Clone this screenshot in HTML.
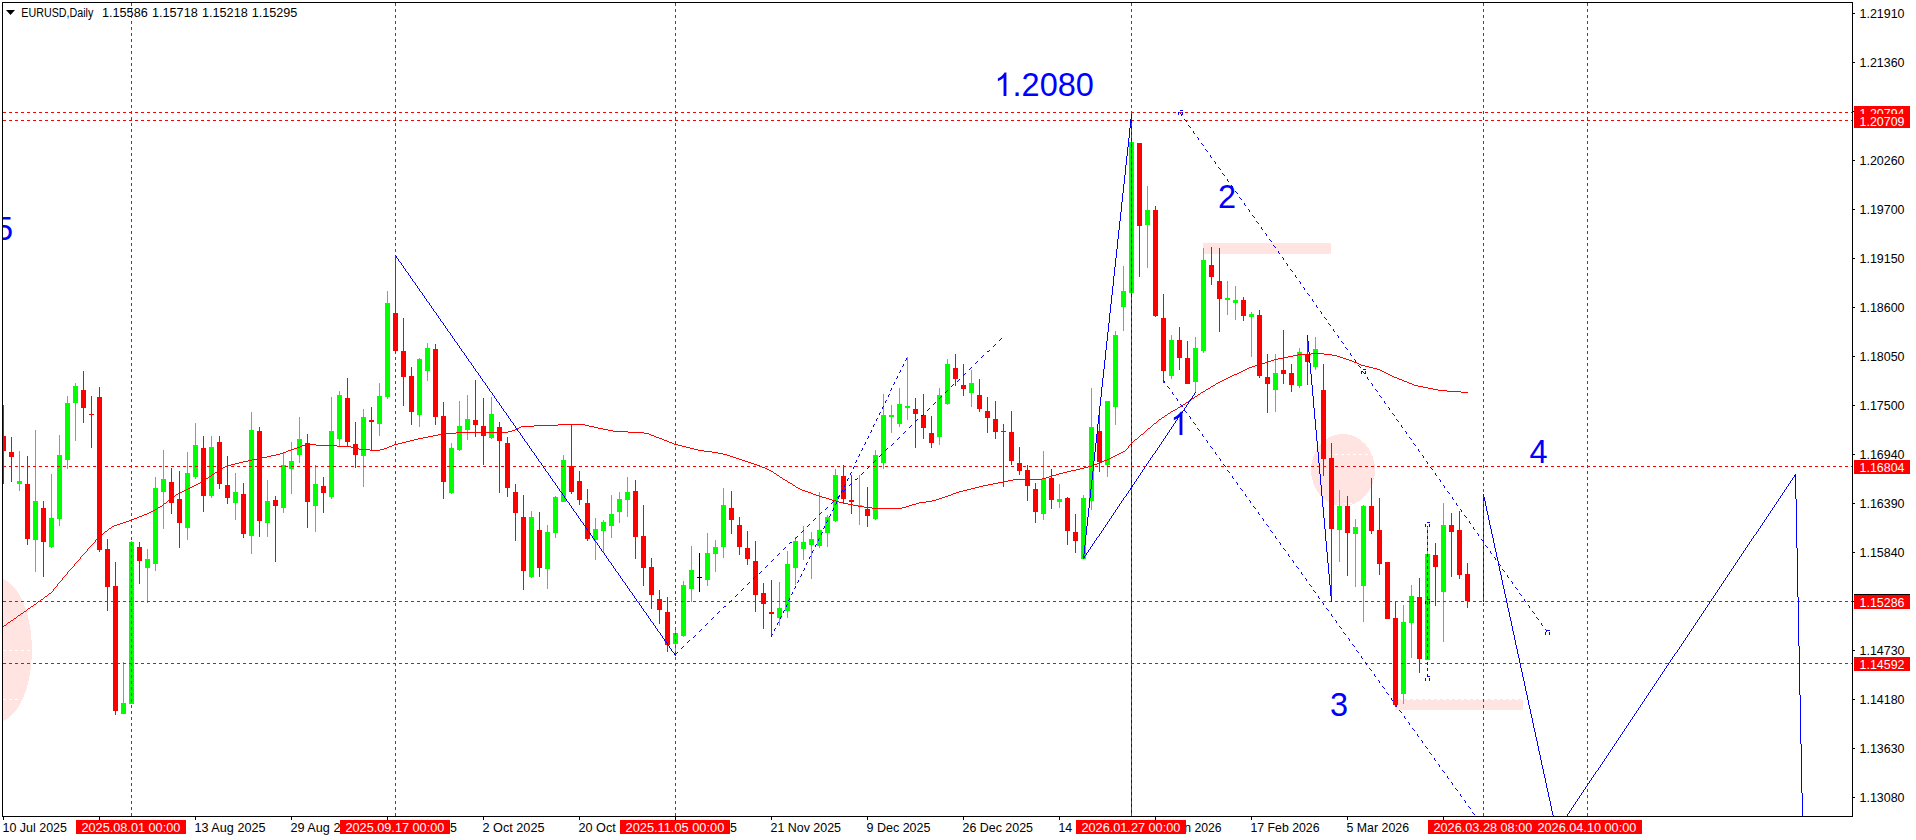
<!DOCTYPE html>
<html><head><meta charset="utf-8"><title>EURUSD,Daily</title>
<style>html,body{margin:0;padding:0;background:#fff;overflow:hidden}body{width:1916px;height:840px}svg{display:block}text{font-family:"Liberation Sans",sans-serif}</style></head><body>
<svg width="1916" height="840" viewBox="0 0 1916 840">
<rect x="0" y="0" width="1916" height="840" fill="#ffffff"/>
<defs><clipPath id="cp"><rect x="3" y="3" width="1849" height="813"/></clipPath></defs>
<g clip-path="url(#cp)" shape-rendering="crispEdges">
<g fill="#ffe4e1">
<ellipse cx="-3" cy="650" rx="35" ry="72"/>
<ellipse cx="1343" cy="470" rx="32" ry="36"/>
<rect x="1203" y="243" width="128" height="11"/>
<rect x="1395" y="699" width="128" height="11"/>
</g>
<g stroke="#ffffff" stroke-width="1" stroke-dasharray="3 3" fill="none">
<line x1="3" y1="650.5" x2="34" y2="650.5"/>
<line x1="3" y1="699.5" x2="20" y2="699.5"/>
<line x1="3" y1="601.5" x2="24" y2="601.5"/>
<line x1="1311" y1="454.5" x2="1375" y2="454.5"/>
<line x1="1319" y1="503.5" x2="1367" y2="503.5"/>
<line x1="1395" y1="699.5" x2="1523" y2="699.5"/>
</g>
<rect x="3" y="405" width="1" height="79" fill="#ff0000"/>
<rect x="1" y="436" width="5" height="15" fill="#ff0000"/>
<rect x="11" y="437" width="1" height="45" fill="#ff0000"/>
<rect x="9" y="452" width="5" height="5" fill="#ff0000"/>
<rect x="19" y="451" width="1" height="40" fill="#00ff00"/>
<rect x="17" y="481" width="5" height="3" fill="#00ff00"/>
<rect x="27" y="456" width="1" height="89" fill="#ff0000"/>
<rect x="25" y="484" width="5" height="55" fill="#ff0000"/>
<rect x="35" y="430" width="1" height="142" fill="#00ff00"/>
<rect x="33" y="501" width="5" height="39" fill="#00ff00"/>
<rect x="43" y="501" width="1" height="76" fill="#ff0000"/>
<rect x="41" y="508" width="5" height="34" fill="#ff0000"/>
<rect x="51" y="474" width="1" height="74" fill="#00ff00"/>
<rect x="49" y="518" width="5" height="29" fill="#00ff00"/>
<rect x="59" y="435" width="1" height="91" fill="#00ff00"/>
<rect x="57" y="455" width="5" height="64" fill="#00ff00"/>
<rect x="67" y="396" width="1" height="73" fill="#00ff00"/>
<rect x="65" y="403" width="5" height="57" fill="#00ff00"/>
<rect x="75" y="383" width="1" height="58" fill="#00ff00"/>
<rect x="73" y="386" width="5" height="17" fill="#00ff00"/>
<rect x="83" y="371" width="1" height="52" fill="#ff0000"/>
<rect x="81" y="390" width="5" height="18" fill="#ff0000"/>
<rect x="91" y="396" width="1" height="52" fill="#ff0000"/>
<rect x="89" y="414" width="5" height="1" fill="#ff0000"/>
<rect x="99" y="387" width="1" height="165" fill="#ff0000"/>
<rect x="97" y="397" width="5" height="153" fill="#ff0000"/>
<rect x="107" y="539" width="1" height="72" fill="#ff0000"/>
<rect x="105" y="549" width="5" height="38" fill="#ff0000"/>
<rect x="115" y="562" width="1" height="153" fill="#ff0000"/>
<rect x="113" y="586" width="5" height="125" fill="#ff0000"/>
<rect x="123" y="662" width="1" height="52" fill="#00ff00"/>
<rect x="121" y="703" width="5" height="11" fill="#00ff00"/>
<rect x="131" y="541" width="1" height="163" fill="#00ff00"/>
<rect x="129" y="542" width="5" height="162" fill="#00ff00"/>
<rect x="139" y="542" width="1" height="42" fill="#ff0000"/>
<rect x="137" y="547" width="5" height="14" fill="#ff0000"/>
<rect x="147" y="549" width="1" height="54" fill="#00ff00"/>
<rect x="145" y="559" width="5" height="9" fill="#00ff00"/>
<rect x="155" y="477" width="1" height="94" fill="#00ff00"/>
<rect x="153" y="488" width="5" height="76" fill="#00ff00"/>
<rect x="163" y="450" width="1" height="79" fill="#00ff00"/>
<rect x="161" y="479" width="5" height="13" fill="#00ff00"/>
<rect x="171" y="468" width="1" height="46" fill="#ff0000"/>
<rect x="169" y="482" width="5" height="21" fill="#ff0000"/>
<rect x="179" y="471" width="1" height="77" fill="#ff0000"/>
<rect x="177" y="499" width="5" height="24" fill="#ff0000"/>
<rect x="187" y="452" width="1" height="88" fill="#00ff00"/>
<rect x="185" y="473" width="5" height="55" fill="#00ff00"/>
<rect x="195" y="423" width="1" height="56" fill="#00ff00"/>
<rect x="193" y="445" width="5" height="32" fill="#00ff00"/>
<rect x="203" y="436" width="1" height="76" fill="#ff0000"/>
<rect x="201" y="448" width="5" height="48" fill="#ff0000"/>
<rect x="211" y="436" width="1" height="62" fill="#00ff00"/>
<rect x="209" y="447" width="5" height="49" fill="#00ff00"/>
<rect x="219" y="436" width="1" height="53" fill="#ff0000"/>
<rect x="217" y="442" width="5" height="42" fill="#ff0000"/>
<rect x="227" y="456" width="1" height="48" fill="#ff0000"/>
<rect x="225" y="485" width="5" height="13" fill="#ff0000"/>
<rect x="235" y="473" width="1" height="47" fill="#00ff00"/>
<rect x="233" y="492" width="5" height="11" fill="#00ff00"/>
<rect x="243" y="483" width="1" height="55" fill="#ff0000"/>
<rect x="241" y="494" width="5" height="40" fill="#ff0000"/>
<rect x="251" y="412" width="1" height="142" fill="#00ff00"/>
<rect x="249" y="430" width="5" height="106" fill="#00ff00"/>
<rect x="259" y="427" width="1" height="110" fill="#ff0000"/>
<rect x="257" y="431" width="5" height="90" fill="#ff0000"/>
<rect x="267" y="480" width="1" height="57" fill="#00ff00"/>
<rect x="265" y="501" width="5" height="22" fill="#00ff00"/>
<rect x="275" y="496" width="1" height="66" fill="#ff0000"/>
<rect x="273" y="500" width="5" height="6" fill="#ff0000"/>
<rect x="283" y="452" width="1" height="61" fill="#00ff00"/>
<rect x="281" y="465" width="5" height="43" fill="#00ff00"/>
<rect x="291" y="442" width="1" height="52" fill="#00ff00"/>
<rect x="289" y="461" width="5" height="8" fill="#00ff00"/>
<rect x="299" y="417" width="1" height="46" fill="#00ff00"/>
<rect x="297" y="439" width="5" height="16" fill="#00ff00"/>
<rect x="307" y="434" width="1" height="94" fill="#ff0000"/>
<rect x="305" y="443" width="5" height="59" fill="#ff0000"/>
<rect x="315" y="465" width="1" height="67" fill="#00ff00"/>
<rect x="313" y="484" width="5" height="22" fill="#00ff00"/>
<rect x="323" y="477" width="1" height="36" fill="#ff0000"/>
<rect x="321" y="486" width="5" height="7" fill="#ff0000"/>
<rect x="331" y="397" width="1" height="102" fill="#00ff00"/>
<rect x="329" y="431" width="5" height="66" fill="#00ff00"/>
<rect x="339" y="391" width="1" height="56" fill="#00ff00"/>
<rect x="337" y="395" width="5" height="44" fill="#00ff00"/>
<rect x="347" y="378" width="1" height="68" fill="#ff0000"/>
<rect x="345" y="398" width="5" height="44" fill="#ff0000"/>
<rect x="355" y="422" width="1" height="46" fill="#ff0000"/>
<rect x="353" y="444" width="5" height="11" fill="#ff0000"/>
<rect x="363" y="409" width="1" height="78" fill="#00ff00"/>
<rect x="361" y="417" width="5" height="39" fill="#00ff00"/>
<rect x="371" y="407" width="1" height="43" fill="#ff0000"/>
<rect x="369" y="420" width="5" height="2" fill="#ff0000"/>
<rect x="379" y="383" width="1" height="53" fill="#00ff00"/>
<rect x="377" y="396" width="5" height="28" fill="#00ff00"/>
<rect x="387" y="291" width="1" height="108" fill="#00ff00"/>
<rect x="385" y="303" width="5" height="94" fill="#00ff00"/>
<rect x="395" y="255" width="1" height="99" fill="#ff0000"/>
<rect x="393" y="313" width="5" height="38" fill="#ff0000"/>
<rect x="403" y="318" width="1" height="88" fill="#ff0000"/>
<rect x="401" y="351" width="5" height="26" fill="#ff0000"/>
<rect x="411" y="367" width="1" height="58" fill="#ff0000"/>
<rect x="409" y="376" width="5" height="36" fill="#ff0000"/>
<rect x="419" y="358" width="1" height="69" fill="#00ff00"/>
<rect x="417" y="359" width="5" height="56" fill="#00ff00"/>
<rect x="427" y="343" width="1" height="38" fill="#00ff00"/>
<rect x="425" y="348" width="5" height="23" fill="#00ff00"/>
<rect x="435" y="344" width="1" height="81" fill="#ff0000"/>
<rect x="433" y="349" width="5" height="68" fill="#ff0000"/>
<rect x="443" y="402" width="1" height="97" fill="#ff0000"/>
<rect x="441" y="416" width="5" height="66" fill="#ff0000"/>
<rect x="451" y="443" width="1" height="51" fill="#00ff00"/>
<rect x="449" y="448" width="5" height="45" fill="#00ff00"/>
<rect x="459" y="401" width="1" height="50" fill="#00ff00"/>
<rect x="457" y="426" width="5" height="24" fill="#00ff00"/>
<rect x="467" y="395" width="1" height="45" fill="#00ff00"/>
<rect x="465" y="419" width="5" height="11" fill="#00ff00"/>
<rect x="475" y="380" width="1" height="57" fill="#ff0000"/>
<rect x="473" y="420" width="5" height="5" fill="#ff0000"/>
<rect x="483" y="398" width="1" height="67" fill="#ff0000"/>
<rect x="481" y="426" width="5" height="10" fill="#ff0000"/>
<rect x="491" y="397" width="1" height="42" fill="#00ff00"/>
<rect x="489" y="414" width="5" height="24" fill="#00ff00"/>
<rect x="499" y="422" width="1" height="71" fill="#ff0000"/>
<rect x="497" y="427" width="5" height="14" fill="#ff0000"/>
<rect x="507" y="437" width="1" height="60" fill="#ff0000"/>
<rect x="505" y="443" width="5" height="45" fill="#ff0000"/>
<rect x="515" y="484" width="1" height="57" fill="#ff0000"/>
<rect x="513" y="492" width="5" height="21" fill="#ff0000"/>
<rect x="523" y="495" width="1" height="95" fill="#ff0000"/>
<rect x="521" y="517" width="5" height="54" fill="#ff0000"/>
<rect x="531" y="511" width="1" height="67" fill="#00ff00"/>
<rect x="529" y="517" width="5" height="60" fill="#00ff00"/>
<rect x="539" y="512" width="1" height="65" fill="#ff0000"/>
<rect x="537" y="530" width="5" height="38" fill="#ff0000"/>
<rect x="547" y="525" width="1" height="64" fill="#00ff00"/>
<rect x="545" y="532" width="5" height="37" fill="#00ff00"/>
<rect x="555" y="496" width="1" height="42" fill="#00ff00"/>
<rect x="553" y="497" width="5" height="36" fill="#00ff00"/>
<rect x="563" y="455" width="1" height="47" fill="#00ff00"/>
<rect x="561" y="460" width="5" height="42" fill="#00ff00"/>
<rect x="571" y="424" width="1" height="70" fill="#ff0000"/>
<rect x="569" y="466" width="5" height="26" fill="#ff0000"/>
<rect x="579" y="471" width="1" height="34" fill="#ff0000"/>
<rect x="577" y="481" width="5" height="19" fill="#ff0000"/>
<rect x="587" y="489" width="1" height="52" fill="#ff0000"/>
<rect x="585" y="503" width="5" height="36" fill="#ff0000"/>
<rect x="595" y="518" width="1" height="42" fill="#00ff00"/>
<rect x="593" y="529" width="5" height="11" fill="#00ff00"/>
<rect x="603" y="520" width="1" height="32" fill="#00ff00"/>
<rect x="601" y="522" width="5" height="9" fill="#00ff00"/>
<rect x="611" y="495" width="1" height="43" fill="#00ff00"/>
<rect x="609" y="514" width="5" height="12" fill="#00ff00"/>
<rect x="619" y="492" width="1" height="31" fill="#00ff00"/>
<rect x="617" y="499" width="5" height="13" fill="#00ff00"/>
<rect x="627" y="477" width="1" height="40" fill="#00ff00"/>
<rect x="625" y="492" width="5" height="8" fill="#00ff00"/>
<rect x="635" y="480" width="1" height="79" fill="#ff0000"/>
<rect x="633" y="491" width="5" height="46" fill="#ff0000"/>
<rect x="643" y="505" width="1" height="81" fill="#ff0000"/>
<rect x="641" y="536" width="5" height="32" fill="#ff0000"/>
<rect x="651" y="558" width="1" height="51" fill="#ff0000"/>
<rect x="649" y="567" width="5" height="28" fill="#ff0000"/>
<rect x="659" y="590" width="1" height="34" fill="#ff0000"/>
<rect x="657" y="599" width="5" height="11" fill="#ff0000"/>
<rect x="667" y="597" width="1" height="55" fill="#ff0000"/>
<rect x="665" y="612" width="5" height="33" fill="#ff0000"/>
<rect x="675" y="630" width="1" height="25" fill="#00ff00"/>
<rect x="673" y="633" width="5" height="11" fill="#00ff00"/>
<rect x="683" y="581" width="1" height="56" fill="#00ff00"/>
<rect x="681" y="585" width="5" height="51" fill="#00ff00"/>
<rect x="691" y="546" width="1" height="56" fill="#00ff00"/>
<rect x="689" y="570" width="5" height="19" fill="#00ff00"/>
<rect x="699" y="553" width="1" height="39" fill="#000000"/>
<rect x="697" y="577" width="5" height="1" fill="#000000"/>
<rect x="707" y="533" width="1" height="53" fill="#00ff00"/>
<rect x="705" y="553" width="5" height="27" fill="#00ff00"/>
<rect x="715" y="540" width="1" height="32" fill="#00ff00"/>
<rect x="713" y="547" width="5" height="7" fill="#00ff00"/>
<rect x="723" y="488" width="1" height="70" fill="#00ff00"/>
<rect x="721" y="505" width="5" height="42" fill="#00ff00"/>
<rect x="731" y="491" width="1" height="43" fill="#ff0000"/>
<rect x="729" y="508" width="5" height="12" fill="#ff0000"/>
<rect x="739" y="517" width="1" height="38" fill="#ff0000"/>
<rect x="737" y="525" width="5" height="22" fill="#ff0000"/>
<rect x="747" y="531" width="1" height="34" fill="#ff0000"/>
<rect x="745" y="548" width="5" height="11" fill="#ff0000"/>
<rect x="755" y="541" width="1" height="71" fill="#ff0000"/>
<rect x="753" y="561" width="5" height="34" fill="#ff0000"/>
<rect x="763" y="583" width="1" height="46" fill="#ff0000"/>
<rect x="761" y="593" width="5" height="11" fill="#ff0000"/>
<rect x="771" y="580" width="1" height="56" fill="#ff0000"/>
<rect x="769" y="612" width="5" height="2" fill="#ff0000"/>
<rect x="779" y="582" width="1" height="44" fill="#00ff00"/>
<rect x="777" y="608" width="5" height="10" fill="#00ff00"/>
<rect x="787" y="551" width="1" height="67" fill="#00ff00"/>
<rect x="785" y="564" width="5" height="47" fill="#00ff00"/>
<rect x="795" y="537" width="1" height="48" fill="#00ff00"/>
<rect x="793" y="541" width="5" height="27" fill="#00ff00"/>
<rect x="803" y="526" width="1" height="34" fill="#00ff00"/>
<rect x="801" y="542" width="5" height="7" fill="#00ff00"/>
<rect x="811" y="532" width="1" height="47" fill="#00ff00"/>
<rect x="809" y="539" width="5" height="6" fill="#00ff00"/>
<rect x="819" y="492" width="1" height="56" fill="#00ff00"/>
<rect x="817" y="530" width="5" height="16" fill="#00ff00"/>
<rect x="827" y="515" width="1" height="32" fill="#00ff00"/>
<rect x="825" y="517" width="5" height="16" fill="#00ff00"/>
<rect x="835" y="469" width="1" height="53" fill="#00ff00"/>
<rect x="833" y="475" width="5" height="46" fill="#00ff00"/>
<rect x="843" y="465" width="1" height="38" fill="#ff0000"/>
<rect x="841" y="476" width="5" height="23" fill="#ff0000"/>
<rect x="851" y="475" width="1" height="39" fill="#ff0000"/>
<rect x="849" y="500" width="5" height="2" fill="#ff0000"/>
<rect x="859" y="475" width="1" height="50" fill="#00ff00"/>
<rect x="857" y="505" width="5" height="1" fill="#00ff00"/>
<rect x="867" y="487" width="1" height="40" fill="#ff0000"/>
<rect x="865" y="509" width="5" height="7" fill="#ff0000"/>
<rect x="875" y="450" width="1" height="70" fill="#00ff00"/>
<rect x="873" y="455" width="5" height="64" fill="#00ff00"/>
<rect x="883" y="394" width="1" height="75" fill="#00ff00"/>
<rect x="881" y="415" width="5" height="48" fill="#00ff00"/>
<rect x="891" y="405" width="1" height="28" fill="#00ff00"/>
<rect x="889" y="415" width="5" height="2" fill="#00ff00"/>
<rect x="899" y="388" width="1" height="39" fill="#00ff00"/>
<rect x="897" y="404" width="5" height="20" fill="#00ff00"/>
<rect x="907" y="357" width="1" height="63" fill="#00ff00"/>
<rect x="905" y="406" width="5" height="2" fill="#00ff00"/>
<rect x="915" y="398" width="1" height="50" fill="#ff0000"/>
<rect x="913" y="409" width="5" height="5" fill="#ff0000"/>
<rect x="923" y="394" width="1" height="45" fill="#ff0000"/>
<rect x="921" y="415" width="5" height="13" fill="#ff0000"/>
<rect x="931" y="416" width="1" height="32" fill="#ff0000"/>
<rect x="929" y="433" width="5" height="10" fill="#ff0000"/>
<rect x="939" y="388" width="1" height="57" fill="#00ff00"/>
<rect x="937" y="395" width="5" height="42" fill="#00ff00"/>
<rect x="947" y="359" width="1" height="46" fill="#00ff00"/>
<rect x="945" y="364" width="5" height="40" fill="#00ff00"/>
<rect x="955" y="354" width="1" height="32" fill="#ff0000"/>
<rect x="953" y="368" width="5" height="11" fill="#ff0000"/>
<rect x="963" y="364" width="1" height="32" fill="#ff0000"/>
<rect x="961" y="385" width="5" height="4" fill="#ff0000"/>
<rect x="971" y="370" width="1" height="37" fill="#00ff00"/>
<rect x="969" y="383" width="5" height="10" fill="#00ff00"/>
<rect x="979" y="379" width="1" height="33" fill="#ff0000"/>
<rect x="977" y="395" width="5" height="14" fill="#ff0000"/>
<rect x="987" y="397" width="1" height="36" fill="#ff0000"/>
<rect x="985" y="411" width="5" height="7" fill="#ff0000"/>
<rect x="995" y="401" width="1" height="38" fill="#ff0000"/>
<rect x="993" y="419" width="5" height="13" fill="#ff0000"/>
<rect x="1003" y="424" width="1" height="63" fill="#ff0000"/>
<rect x="1001" y="431" width="5" height="1" fill="#ff0000"/>
<rect x="1011" y="411" width="1" height="54" fill="#ff0000"/>
<rect x="1009" y="432" width="5" height="29" fill="#ff0000"/>
<rect x="1019" y="447" width="1" height="28" fill="#ff0000"/>
<rect x="1017" y="463" width="5" height="8" fill="#ff0000"/>
<rect x="1027" y="465" width="1" height="36" fill="#ff0000"/>
<rect x="1025" y="470" width="5" height="16" fill="#ff0000"/>
<rect x="1035" y="483" width="1" height="40" fill="#ff0000"/>
<rect x="1033" y="489" width="5" height="23" fill="#ff0000"/>
<rect x="1043" y="451" width="1" height="69" fill="#00ff00"/>
<rect x="1041" y="479" width="5" height="35" fill="#00ff00"/>
<rect x="1051" y="469" width="1" height="40" fill="#ff0000"/>
<rect x="1049" y="478" width="5" height="22" fill="#ff0000"/>
<rect x="1059" y="484" width="1" height="24" fill="#00ff00"/>
<rect x="1057" y="499" width="5" height="3" fill="#00ff00"/>
<rect x="1067" y="497" width="1" height="48" fill="#ff0000"/>
<rect x="1065" y="498" width="5" height="33" fill="#ff0000"/>
<rect x="1075" y="514" width="1" height="39" fill="#ff0000"/>
<rect x="1073" y="532" width="5" height="9" fill="#ff0000"/>
<rect x="1083" y="495" width="1" height="64" fill="#00ff00"/>
<rect x="1081" y="498" width="5" height="61" fill="#00ff00"/>
<rect x="1091" y="388" width="1" height="122" fill="#00ff00"/>
<rect x="1089" y="427" width="5" height="74" fill="#00ff00"/>
<rect x="1099" y="415" width="1" height="57" fill="#ff0000"/>
<rect x="1097" y="431" width="5" height="31" fill="#ff0000"/>
<rect x="1107" y="401" width="1" height="76" fill="#00ff00"/>
<rect x="1105" y="401" width="5" height="64" fill="#00ff00"/>
<rect x="1115" y="331" width="1" height="94" fill="#00ff00"/>
<rect x="1113" y="335" width="5" height="72" fill="#00ff00"/>
<rect x="1123" y="266" width="1" height="65" fill="#00ff00"/>
<rect x="1121" y="291" width="5" height="16" fill="#00ff00"/>
<rect x="1131" y="113" width="1" height="180" fill="#00ff00"/>
<rect x="1129" y="142" width="5" height="151" fill="#00ff00"/>
<rect x="1139" y="143" width="1" height="134" fill="#ff0000"/>
<rect x="1137" y="143" width="5" height="83" fill="#ff0000"/>
<rect x="1147" y="186" width="1" height="82" fill="#00ff00"/>
<rect x="1145" y="210" width="5" height="15" fill="#00ff00"/>
<rect x="1155" y="206" width="1" height="111" fill="#ff0000"/>
<rect x="1153" y="210" width="5" height="106" fill="#ff0000"/>
<rect x="1163" y="294" width="1" height="89" fill="#ff0000"/>
<rect x="1161" y="318" width="5" height="53" fill="#ff0000"/>
<rect x="1171" y="335" width="1" height="44" fill="#00ff00"/>
<rect x="1169" y="340" width="5" height="36" fill="#00ff00"/>
<rect x="1179" y="327" width="1" height="43" fill="#ff0000"/>
<rect x="1177" y="340" width="5" height="18" fill="#ff0000"/>
<rect x="1187" y="341" width="1" height="43" fill="#ff0000"/>
<rect x="1185" y="358" width="5" height="26" fill="#ff0000"/>
<rect x="1195" y="337" width="1" height="55" fill="#00ff00"/>
<rect x="1193" y="348" width="5" height="34" fill="#00ff00"/>
<rect x="1203" y="248" width="1" height="105" fill="#00ff00"/>
<rect x="1201" y="260" width="5" height="91" fill="#00ff00"/>
<rect x="1211" y="247" width="1" height="38" fill="#ff0000"/>
<rect x="1209" y="265" width="5" height="12" fill="#ff0000"/>
<rect x="1219" y="248" width="1" height="84" fill="#ff0000"/>
<rect x="1217" y="281" width="5" height="18" fill="#ff0000"/>
<rect x="1227" y="281" width="1" height="34" fill="#00ff00"/>
<rect x="1225" y="298" width="5" height="2" fill="#00ff00"/>
<rect x="1235" y="286" width="1" height="34" fill="#00ff00"/>
<rect x="1233" y="300" width="5" height="3" fill="#00ff00"/>
<rect x="1243" y="297" width="1" height="24" fill="#ff0000"/>
<rect x="1241" y="300" width="5" height="16" fill="#ff0000"/>
<rect x="1251" y="312" width="1" height="45" fill="#00ff00"/>
<rect x="1249" y="314" width="5" height="3" fill="#00ff00"/>
<rect x="1259" y="310" width="1" height="68" fill="#ff0000"/>
<rect x="1257" y="315" width="5" height="61" fill="#ff0000"/>
<rect x="1267" y="354" width="1" height="59" fill="#ff0000"/>
<rect x="1265" y="377" width="5" height="7" fill="#ff0000"/>
<rect x="1275" y="354" width="1" height="58" fill="#00ff00"/>
<rect x="1273" y="373" width="5" height="17" fill="#00ff00"/>
<rect x="1283" y="330" width="1" height="54" fill="#ff0000"/>
<rect x="1281" y="370" width="5" height="4" fill="#ff0000"/>
<rect x="1291" y="364" width="1" height="28" fill="#ff0000"/>
<rect x="1289" y="373" width="5" height="12" fill="#ff0000"/>
<rect x="1299" y="348" width="1" height="40" fill="#00ff00"/>
<rect x="1297" y="352" width="5" height="34" fill="#00ff00"/>
<rect x="1307" y="341" width="1" height="44" fill="#ff0000"/>
<rect x="1305" y="354" width="5" height="8" fill="#ff0000"/>
<rect x="1315" y="337" width="1" height="33" fill="#00ff00"/>
<rect x="1313" y="349" width="5" height="18" fill="#00ff00"/>
<rect x="1323" y="364" width="1" height="112" fill="#ff0000"/>
<rect x="1321" y="390" width="5" height="69" fill="#ff0000"/>
<rect x="1331" y="443" width="1" height="158" fill="#ff0000"/>
<rect x="1329" y="458" width="5" height="71" fill="#ff0000"/>
<rect x="1339" y="490" width="1" height="72" fill="#00ff00"/>
<rect x="1337" y="506" width="5" height="24" fill="#00ff00"/>
<rect x="1347" y="496" width="1" height="80" fill="#ff0000"/>
<rect x="1345" y="506" width="5" height="27" fill="#ff0000"/>
<rect x="1355" y="519" width="1" height="68" fill="#00ff00"/>
<rect x="1353" y="527" width="5" height="7" fill="#00ff00"/>
<rect x="1363" y="505" width="1" height="117" fill="#00ff00"/>
<rect x="1361" y="506" width="5" height="80" fill="#00ff00"/>
<rect x="1371" y="478" width="1" height="56" fill="#ff0000"/>
<rect x="1369" y="506" width="5" height="25" fill="#ff0000"/>
<rect x="1379" y="498" width="1" height="77" fill="#ff0000"/>
<rect x="1377" y="530" width="5" height="34" fill="#ff0000"/>
<rect x="1387" y="562" width="1" height="57" fill="#ff0000"/>
<rect x="1385" y="562" width="5" height="57" fill="#ff0000"/>
<rect x="1395" y="601" width="1" height="106" fill="#ff0000"/>
<rect x="1393" y="618" width="5" height="87" fill="#ff0000"/>
<rect x="1403" y="605" width="1" height="99" fill="#00ff00"/>
<rect x="1401" y="622" width="5" height="72" fill="#00ff00"/>
<rect x="1411" y="585" width="1" height="73" fill="#00ff00"/>
<rect x="1409" y="596" width="5" height="27" fill="#00ff00"/>
<rect x="1419" y="578" width="1" height="95" fill="#ff0000"/>
<rect x="1417" y="597" width="5" height="62" fill="#ff0000"/>
<rect x="1427" y="527" width="1" height="133" fill="#00ff00"/>
<rect x="1425" y="554" width="5" height="106" fill="#00ff00"/>
<rect x="1435" y="543" width="1" height="63" fill="#ff0000"/>
<rect x="1433" y="555" width="5" height="12" fill="#ff0000"/>
<rect x="1443" y="503" width="1" height="139" fill="#00ff00"/>
<rect x="1441" y="525" width="5" height="67" fill="#00ff00"/>
<rect x="1451" y="513" width="1" height="64" fill="#ff0000"/>
<rect x="1449" y="525" width="5" height="7" fill="#ff0000"/>
<rect x="1459" y="511" width="1" height="68" fill="#ff0000"/>
<rect x="1457" y="530" width="5" height="45" fill="#ff0000"/>
<rect x="1467" y="563" width="1" height="45" fill="#ff0000"/>
<rect x="1465" y="574" width="5" height="27" fill="#ff0000"/>
<path d="M3 626h1v1h-1zM4 625h2v1h-2zM6 624h1v1h-1zM7 623h1v1h-1zM8 622h2v1h-2zM10 621h1v1h-1zM11 620h2v1h-2zM13 619h1v1h-1zM14 618h2v1h-2zM16 617h1v1h-1zM17 616h1v1h-1zM18 615h2v1h-2zM20 614h1v1h-1zM21 613h2v1h-2zM23 612h1v1h-1zM24 611h2v1h-2zM26 610h1v1h-1zM27 609h1v1h-1zM28 608h2v1h-2zM30 607h1v1h-1zM31 606h2v1h-2zM33 605h1v1h-1zM34 604h2v1h-2zM36 603h1v1h-1zM37 602h1v1h-1zM38 601h2v1h-2zM40 600h1v1h-1zM41 599h2v1h-2zM43 598h1v1h-1zM44 597h1v1h-1zM45 596h2v1h-2zM47 595h1v1h-1zM48 594h1v1h-1zM49 593h2v1h-2zM51 592h1v1h-1zM52 591h1v1h-1zM53 589h1v2h-1zM54 588h1v1h-1zM55 587h1v1h-1zM56 586h1v1h-1zM57 584h1v2h-1zM58 583h1v1h-1zM59 582h1v1h-1zM60 581h1v1h-1zM61 580h1v1h-1zM62 578h1v2h-1zM63 577h1v1h-1zM64 576h1v1h-1zM65 575h1v1h-1zM66 574h1v1h-1zM67 572h1v2h-1zM68 571h1v1h-1zM69 570h1v1h-1zM70 569h1v1h-1zM71 568h1v1h-1zM72 567h1v1h-1zM73 566h1v1h-1zM74 564h1v2h-1zM75 563h1v1h-1zM76 562h1v1h-1zM77 561h1v1h-1zM78 560h1v1h-1zM79 559h1v1h-1zM80 557h1v2h-1zM81 556h1v1h-1zM82 555h1v1h-1zM83 554h1v1h-1zM84 553h1v1h-1zM85 552h1v1h-1zM86 551h1v1h-1zM87 549h1v2h-1zM88 548h1v1h-1zM89 547h1v1h-1zM90 546h1v1h-1zM91 545h1v1h-1zM92 544h1v1h-1zM93 543h1v1h-1zM94 542h1v1h-1zM95 540h1v2h-1zM96 539h1v1h-1zM97 538h1v1h-1zM98 537h1v1h-1zM99 536h1v1h-1zM100 535h1v1h-1zM101 534h2v1h-2zM103 533h1v1h-1zM104 532h1v1h-1zM105 531h2v1h-2zM107 530h1v1h-1zM108 529h1v1h-1zM109 528h2v1h-2zM111 527h1v1h-1zM112 526h2v1h-2zM114 525h3v1h-3zM117 524h3v1h-3zM120 523h3v1h-3zM123 522h3v1h-3zM126 521h3v1h-3zM129 520h3v1h-3zM132 519h2v1h-2zM134 518h3v1h-3zM137 517h2v1h-2zM139 516h3v1h-3zM142 515h2v1h-2zM144 514h3v1h-3zM147 513h2v1h-2zM149 512h2v1h-2zM151 511h2v1h-2zM153 510h2v1h-2zM155 509h2v1h-2zM157 508h1v1h-1zM158 507h2v1h-2zM160 506h2v1h-2zM162 505h1v1h-1zM163 504h1v1h-1zM164 503h2v1h-2zM166 502h1v1h-1zM167 501h1v1h-1zM168 500h2v1h-2zM170 499h1v1h-1zM171 498h1v1h-1zM172 497h2v1h-2zM174 496h1v1h-1zM175 495h1v1h-1zM176 494h2v1h-2zM178 493h2v1h-2zM180 492h2v1h-2zM182 491h2v1h-2zM184 490h2v1h-2zM186 489h2v1h-2zM188 488h2v1h-2zM190 487h2v1h-2zM192 486h2v1h-2zM194 485h2v1h-2zM196 484h2v1h-2zM198 483h2v1h-2zM200 482h1v1h-1zM201 481h2v1h-2zM203 480h1v1h-1zM204 479h2v1h-2zM206 478h2v1h-2zM208 477h1v1h-1zM209 476h2v1h-2zM211 475h1v1h-1zM212 474h2v1h-2zM214 473h1v1h-1zM215 472h2v1h-2zM217 471h1v1h-1zM218 470h2v1h-2zM220 469h2v1h-2zM222 468h1v1h-1zM223 467h2v1h-2zM225 466h2v1h-2zM227 465h4v1h-4zM231 464h4v1h-4zM235 463h4v1h-4zM239 462h4v1h-4zM243 461h5v1h-5zM248 460h4v1h-4zM252 459h5v1h-5zM257 458h5v1h-5zM262 457h5v1h-5zM267 456h4v1h-4zM271 455h5v1h-5zM276 454h4v1h-4zM280 453h3v1h-3zM283 452h3v1h-3zM286 451h2v1h-2zM288 450h3v1h-3zM291 449h3v1h-3zM294 448h3v1h-3zM297 447h3v1h-3zM300 446h2v1h-2zM302 445h3v1h-3zM305 444h11v1h-11zM316 445h21v1h-21zM337 446h14v1h-14zM351 447h4v1h-4zM355 448h4v1h-4zM359 449h11v1h-11zM370 450h10v1h-10zM380 449h4v1h-4zM384 448h3v1h-3zM387 447h2v1h-2zM389 446h3v1h-3zM392 445h2v1h-2zM394 444h4v1h-4zM398 443h4v1h-4zM402 442h4v1h-4zM406 441h4v1h-4zM410 440h4v1h-4zM414 439h4v1h-4zM418 438h5v1h-5zM423 437h5v1h-5zM428 436h5v1h-5zM433 435h5v1h-5zM438 434h8v1h-8zM446 433h10v1h-10zM456 432h52v1h-52zM508 431h4v1h-4zM512 430h3v1h-3zM515 429h2v1h-2zM517 428h2v1h-2zM519 427h2v1h-2zM521 426h13v1h-13zM534 425h24v1h-24zM558 424h27v1h-27zM585 425h4v1h-4zM589 426h5v1h-5zM594 427h4v1h-4zM598 428h5v1h-5zM603 429h5v1h-5zM608 430h5v1h-5zM613 431h15v1h-15zM628 432h16v1h-16zM644 433h5v1h-5zM649 434h2v1h-2zM651 435h3v1h-3zM654 436h2v1h-2zM656 437h3v1h-3zM659 438h3v1h-3zM662 439h2v1h-2zM664 440h3v1h-3zM667 441h2v1h-2zM669 442h3v1h-3zM672 443h2v1h-2zM674 444h4v1h-4zM678 445h4v1h-4zM682 446h4v1h-4zM686 447h4v1h-4zM690 448h4v1h-4zM694 449h4v1h-4zM698 450h6v1h-6zM704 451h8v1h-8zM712 452h6v1h-6zM718 453h5v1h-5zM723 454h4v1h-4zM727 455h3v1h-3zM730 456h3v1h-3zM733 457h3v1h-3zM736 458h3v1h-3zM739 459h3v1h-3zM742 460h3v1h-3zM745 461h3v1h-3zM748 462h3v1h-3zM751 463h3v1h-3zM754 464h3v1h-3zM757 465h3v1h-3zM760 466h2v1h-2zM762 467h3v1h-3zM765 468h2v1h-2zM767 469h2v1h-2zM769 470h2v1h-2zM771 471h2v1h-2zM773 472h1v1h-1zM774 473h2v1h-2zM776 474h1v1h-1zM777 475h2v1h-2zM779 476h1v1h-1zM780 477h2v1h-2zM782 478h1v1h-1zM783 479h2v1h-2zM785 480h2v1h-2zM787 481h1v1h-1zM788 482h2v1h-2zM790 483h2v1h-2zM792 484h1v1h-1zM793 485h2v1h-2zM795 486h1v1h-1zM796 487h2v1h-2zM798 488h2v1h-2zM800 489h2v1h-2zM802 490h3v1h-3zM805 491h3v1h-3zM808 492h3v1h-3zM811 493h2v1h-2zM813 494h3v1h-3zM816 495h3v1h-3zM819 496h3v1h-3zM822 497h4v1h-4zM826 498h3v1h-3zM829 499h3v1h-3zM832 500h4v1h-4zM836 501h3v1h-3zM839 502h4v1h-4zM843 503h5v1h-5zM848 504h5v1h-5zM853 505h5v1h-5zM858 506h6v1h-6zM864 507h8v1h-8zM872 508h30v1h-30zM902 507h4v1h-4zM906 506h3v1h-3zM909 505h3v1h-3zM912 504h4v1h-4zM916 503h3v1h-3zM919 502h7v1h-7zM926 501h6v1h-6zM932 500h4v1h-4zM936 499h3v1h-3zM939 498h3v1h-3zM942 497h3v1h-3zM945 496h3v1h-3zM948 495h3v1h-3zM951 494h2v1h-2zM953 493h3v1h-3zM956 492h3v1h-3zM959 491h4v1h-4zM963 490h4v1h-4zM967 489h4v1h-4zM971 488h4v1h-4zM975 487h4v1h-4zM979 486h4v1h-4zM983 485h5v1h-5zM988 484h5v1h-5zM993 483h5v1h-5zM998 482h5v1h-5zM1003 481h5v1h-5zM1008 480h5v1h-5zM1013 479h29v1h-29zM1042 478h4v1h-4zM1046 477h3v1h-3zM1049 476h3v1h-3zM1052 475h4v1h-4zM1056 474h3v1h-3zM1059 473h4v1h-4zM1063 472h4v1h-4zM1067 471h4v1h-4zM1071 470h5v1h-5zM1076 469h4v1h-4zM1080 468h4v1h-4zM1084 467h4v1h-4zM1088 466h4v1h-4zM1092 465h2v1h-2zM1094 464h3v1h-3zM1097 463h2v1h-2zM1099 462h3v1h-3zM1102 461h2v1h-2zM1104 460h3v1h-3zM1107 459h2v1h-2zM1109 458h2v1h-2zM1111 457h2v1h-2zM1113 456h2v1h-2zM1115 455h2v1h-2zM1117 454h2v1h-2zM1119 453h2v1h-2zM1121 452h2v1h-2zM1123 451h2v1h-2zM1125 450h1v1h-1zM1126 449h1v1h-1zM1127 448h1v1h-1zM1128 446h1v2h-1zM1129 445h1v1h-1zM1130 444h1v1h-1zM1131 443h1v1h-1zM1132 442h1v1h-1zM1133 441h1v1h-1zM1134 440h1v1h-1zM1135 439h2v1h-2zM1137 438h1v1h-1zM1138 437h1v1h-1zM1139 436h1v1h-1zM1140 435h1v1h-1zM1141 434h2v1h-2zM1143 433h1v1h-1zM1144 432h1v1h-1zM1145 431h1v1h-1zM1146 430h1v1h-1zM1147 429h1v1h-1zM1148 428h2v1h-2zM1150 427h1v1h-1zM1151 426h1v1h-1zM1152 425h1v1h-1zM1153 424h1v1h-1zM1154 423h2v1h-2zM1156 422h1v1h-1zM1157 421h1v1h-1zM1158 420h1v1h-1zM1159 419h2v1h-2zM1161 418h1v1h-1zM1162 417h2v1h-2zM1164 416h1v1h-1zM1165 415h2v1h-2zM1167 414h1v1h-1zM1168 413h2v1h-2zM1170 412h1v1h-1zM1171 411h2v1h-2zM1173 410h2v1h-2zM1175 409h2v1h-2zM1177 408h1v1h-1zM1178 407h2v1h-2zM1180 406h2v1h-2zM1182 405h1v1h-1zM1183 404h2v1h-2zM1185 403h1v1h-1zM1186 402h2v1h-2zM1188 401h1v1h-1zM1189 400h2v1h-2zM1191 399h1v1h-1zM1192 398h2v1h-2zM1194 397h1v1h-1zM1195 396h2v1h-2zM1197 395h1v1h-1zM1198 394h2v1h-2zM1200 393h1v1h-1zM1201 392h2v1h-2zM1203 391h2v1h-2zM1205 390h1v1h-1zM1206 389h2v1h-2zM1208 388h2v1h-2zM1210 387h1v1h-1zM1211 386h2v1h-2zM1213 385h2v1h-2zM1215 384h1v1h-1zM1216 383h2v1h-2zM1218 382h2v1h-2zM1220 381h2v1h-2zM1222 380h2v1h-2zM1224 379h2v1h-2zM1226 378h2v1h-2zM1228 377h2v1h-2zM1230 376h2v1h-2zM1232 375h2v1h-2zM1234 374h3v1h-3zM1237 373h2v1h-2zM1239 372h2v1h-2zM1241 371h2v1h-2zM1243 370h2v1h-2zM1245 369h2v1h-2zM1247 368h2v1h-2zM1249 367h3v1h-3zM1252 366h3v1h-3zM1255 365h3v1h-3zM1258 364h3v1h-3zM1261 363h4v1h-4zM1265 362h3v1h-3zM1268 361h3v1h-3zM1271 360h3v1h-3zM1274 359h4v1h-4zM1278 358h5v1h-5zM1283 357h5v1h-5zM1288 356h5v1h-5zM1293 355h5v1h-5zM1298 354h13v1h-13zM1311 353h13v1h-13zM1324 354h8v1h-8zM1332 355h5v1h-5zM1337 356h3v1h-3zM1340 357h3v1h-3zM1343 358h3v1h-3zM1346 359h3v1h-3zM1349 360h3v1h-3zM1352 361h2v1h-2zM1354 362h3v1h-3zM1357 363h2v1h-2zM1359 364h2v1h-2zM1361 365h4v1h-4zM1365 366h4v1h-4zM1369 367h4v1h-4zM1373 368h4v1h-4zM1377 369h3v1h-3zM1380 370h2v1h-2zM1382 371h2v1h-2zM1384 372h2v1h-2zM1386 373h2v1h-2zM1388 374h2v1h-2zM1390 375h2v1h-2zM1392 376h2v1h-2zM1394 377h3v1h-3zM1397 378h2v1h-2zM1399 379h3v1h-3zM1402 380h2v1h-2zM1404 381h3v1h-3zM1407 382h2v1h-2zM1409 383h3v1h-3zM1412 384h2v1h-2zM1414 385h4v1h-4zM1418 386h5v1h-5zM1423 387h5v1h-5zM1428 388h5v1h-5zM1433 389h5v1h-5zM1438 390h9v1h-9zM1447 391h14v1h-14zM1461 392h7v1h-7z" fill="#ff0000"/>
<g stroke="#ff0000" stroke-width="1" stroke-dasharray="3 3" fill="none">
<line x1="3" y1="112.5" x2="1852" y2="112.5"/>
<line x1="3" y1="120.5" x2="1852" y2="120.5"/>
<line x1="3" y1="466.5" x2="1852" y2="466.5"/>
<line x1="3" y1="601.5" x2="1852" y2="601.5"/>
<line x1="3" y1="663.5" x2="1852" y2="663.5"/>
<line x1="131.5" y1="3" x2="131.5" y2="816"/>
<line x1="395.5" y1="3" x2="395.5" y2="816"/>
<line x1="675.5" y1="3" x2="675.5" y2="816"/>
<line x1="1131.5" y1="3" x2="1131.5" y2="816"/>
<line x1="1483.5" y1="3" x2="1483.5" y2="816"/>
<line x1="1587.5" y1="3" x2="1587.5" y2="816"/>
</g>
<line x1="1483.5" y1="494" x2="1483.5" y2="602" stroke="#0000ff" stroke-width="1"/>
<line x1="1483.5" y1="3" x2="1483.5" y2="816" stroke="#ff0000" stroke-width="1" stroke-dasharray="3 3"/>
<line x1="1131.5" y1="114" x2="1131.5" y2="816" stroke="#0000ff" stroke-width="1"/>
<line x1="1131.5" y1="3" x2="1131.5" y2="816" stroke="#ff0000" stroke-width="1" stroke-dasharray="3 3"/>
<path d="M395 255h1v1h-1zM396 256h1v2h-1zM397 258h1v1h-1zM398 259h1v2h-1zM399 261h1v1h-1zM400 262h1v1h-1zM401 263h1v2h-1zM402 265h1v1h-1zM403 266h1v2h-1zM404 268h1v1h-1zM405 269h1v2h-1zM406 271h1v1h-1zM407 272h1v1h-1zM408 273h1v2h-1zM409 275h1v1h-1zM410 276h1v2h-1zM411 278h1v1h-1zM412 279h1v2h-1zM413 281h1v1h-1zM414 282h1v1h-1zM415 283h1v2h-1zM416 285h1v1h-1zM417 286h1v2h-1zM418 288h1v1h-1zM419 289h1v2h-1zM420 291h1v1h-1zM421 292h1v1h-1zM422 293h1v2h-1zM423 295h1v1h-1zM424 296h1v2h-1zM425 298h1v1h-1zM426 299h1v2h-1zM427 301h1v1h-1zM428 302h1v1h-1zM429 303h1v2h-1zM430 305h1v1h-1zM431 306h1v2h-1zM432 308h1v1h-1zM433 309h1v2h-1zM434 311h1v1h-1zM435 312h1v1h-1zM436 313h1v2h-1zM437 315h1v1h-1zM438 316h1v2h-1zM439 318h1v1h-1zM440 319h1v2h-1zM441 321h1v1h-1zM442 322h1v1h-1zM443 323h1v2h-1zM444 325h1v1h-1zM445 326h1v2h-1zM446 328h1v1h-1zM447 329h1v2h-1zM448 331h1v1h-1zM449 332h1v1h-1zM450 333h1v2h-1zM451 335h1v1h-1zM452 336h1v2h-1zM453 338h1v1h-1zM454 339h1v2h-1zM455 341h1v1h-1zM456 342h1v1h-1zM457 343h1v2h-1zM458 345h1v1h-1zM459 346h1v2h-1zM460 348h1v1h-1zM461 349h1v2h-1zM462 351h1v1h-1zM463 352h1v1h-1zM464 353h1v2h-1zM465 355h1v1h-1zM466 356h1v2h-1zM467 358h1v1h-1zM468 359h1v2h-1zM469 361h1v1h-1zM470 362h1v1h-1zM471 363h1v2h-1zM472 365h1v1h-1zM473 366h1v2h-1zM474 368h1v1h-1zM475 369h1v2h-1zM476 371h1v1h-1zM477 372h1v1h-1zM478 373h1v2h-1zM479 375h1v1h-1zM480 376h1v2h-1zM481 378h1v1h-1zM482 379h1v2h-1zM483 381h1v1h-1zM484 382h1v1h-1zM485 383h1v2h-1zM486 385h1v1h-1zM487 386h1v2h-1zM488 388h1v1h-1zM489 389h1v2h-1zM490 391h1v1h-1zM491 392h1v1h-1zM492 393h1v2h-1zM493 395h1v1h-1zM494 396h1v2h-1zM495 398h1v1h-1zM496 399h1v2h-1zM497 401h1v1h-1zM498 402h1v1h-1zM499 403h1v2h-1zM500 405h1v1h-1zM501 406h1v2h-1zM502 408h1v1h-1zM503 409h1v2h-1zM504 411h1v1h-1zM505 412h1v1h-1zM506 413h1v2h-1zM507 415h1v1h-1zM508 416h1v2h-1zM509 418h1v1h-1zM510 419h1v2h-1zM511 421h1v1h-1zM512 422h1v1h-1zM513 423h1v2h-1zM514 425h1v1h-1zM515 426h1v2h-1zM516 428h1v1h-1zM517 429h1v2h-1zM518 431h1v1h-1zM519 432h1v1h-1zM520 433h1v2h-1zM521 435h1v1h-1zM522 436h1v2h-1zM523 438h1v1h-1zM524 439h1v2h-1zM525 441h1v1h-1zM526 442h1v1h-1zM527 443h1v2h-1zM528 445h1v1h-1zM529 446h1v2h-1zM530 448h1v1h-1zM531 449h1v2h-1zM532 451h1v1h-1zM533 452h1v1h-1zM534 453h1v2h-1zM535 455h1v1h-1zM536 456h1v2h-1zM537 458h1v1h-1zM538 459h1v2h-1zM539 461h1v1h-1zM540 462h1v1h-1zM541 463h1v2h-1zM542 465h1v1h-1zM543 466h1v2h-1zM544 468h1v1h-1zM545 469h1v2h-1zM546 471h1v1h-1zM547 472h1v1h-1zM548 473h1v2h-1zM549 475h1v1h-1zM550 476h1v2h-1zM551 478h1v1h-1zM552 479h1v2h-1zM553 481h1v1h-1zM554 482h1v1h-1zM555 483h1v2h-1zM556 485h1v1h-1zM557 486h1v2h-1zM558 488h1v1h-1zM559 489h1v2h-1zM560 491h1v1h-1zM561 492h1v1h-1zM562 493h1v2h-1zM563 495h1v1h-1zM564 496h1v2h-1zM565 498h1v1h-1zM566 499h1v2h-1zM567 501h1v1h-1zM568 502h1v1h-1zM569 503h1v2h-1zM570 505h1v1h-1zM571 506h1v2h-1zM572 508h1v1h-1zM573 509h1v2h-1zM574 511h1v1h-1zM575 512h1v1h-1zM576 513h1v2h-1zM577 515h1v1h-1zM578 516h1v2h-1zM579 518h1v1h-1zM580 519h1v2h-1zM581 521h1v1h-1zM582 522h1v1h-1zM583 523h1v2h-1zM584 525h1v1h-1zM585 526h1v2h-1zM586 528h1v1h-1zM587 529h1v2h-1zM588 531h1v1h-1zM589 532h1v1h-1zM590 533h1v2h-1zM591 535h1v1h-1zM592 536h1v2h-1zM593 538h1v1h-1zM594 539h1v2h-1zM595 541h1v1h-1zM596 542h1v1h-1zM597 543h1v2h-1zM598 545h1v1h-1zM599 546h1v2h-1zM600 548h1v1h-1zM601 549h1v2h-1zM602 551h1v1h-1zM603 552h1v1h-1zM604 553h1v2h-1zM605 555h1v1h-1zM606 556h1v2h-1zM607 558h1v1h-1zM608 559h1v2h-1zM609 561h1v1h-1zM610 562h1v1h-1zM611 563h1v2h-1zM612 565h1v1h-1zM613 566h1v2h-1zM614 568h1v1h-1zM615 569h1v2h-1zM616 571h1v1h-1zM617 572h1v1h-1zM618 573h1v2h-1zM619 575h1v1h-1zM620 576h1v2h-1zM621 578h1v1h-1zM622 579h1v2h-1zM623 581h1v1h-1zM624 582h1v1h-1zM625 583h1v2h-1zM626 585h1v1h-1zM627 586h1v2h-1zM628 588h1v1h-1zM629 589h1v2h-1zM630 591h1v1h-1zM631 592h1v1h-1zM632 593h1v2h-1zM633 595h1v1h-1zM634 596h1v2h-1zM635 598h1v1h-1zM636 599h1v2h-1zM637 601h1v1h-1zM638 602h1v1h-1zM639 603h1v2h-1zM640 605h1v1h-1zM641 606h1v2h-1zM642 608h1v1h-1zM643 609h1v2h-1zM644 611h1v1h-1zM645 612h1v1h-1zM646 613h1v2h-1zM647 615h1v1h-1zM648 616h1v2h-1zM649 618h1v1h-1zM650 619h1v2h-1zM651 621h1v1h-1zM652 622h1v1h-1zM653 623h1v2h-1zM654 625h1v1h-1zM655 626h1v2h-1zM656 628h1v1h-1zM657 629h1v2h-1zM658 631h1v1h-1zM659 632h1v1h-1zM660 633h1v2h-1zM661 635h1v1h-1zM662 636h1v2h-1zM663 638h1v1h-1zM664 639h1v2h-1zM665 641h1v1h-1zM666 642h1v1h-1zM667 643h1v2h-1zM668 645h1v1h-1zM669 646h1v2h-1zM670 648h1v1h-1zM671 649h1v2h-1zM672 651h1v1h-1zM673 652h1v1h-1zM674 653h1v2h-1zM675 655h1v1h-1z" fill="#0000ff"/>
<path d="M1083 554h1v5h-1zM1084 545h1v9h-1zM1085 535h1v10h-1zM1086 526h1v9h-1zM1087 517h1v9h-1zM1088 508h1v9h-1zM1089 498h1v10h-1zM1090 489h1v9h-1zM1091 480h1v9h-1zM1092 471h1v9h-1zM1093 461h1v10h-1zM1094 452h1v9h-1zM1095 443h1v9h-1zM1096 434h1v9h-1zM1097 424h1v10h-1zM1098 415h1v9h-1zM1099 406h1v9h-1zM1100 397h1v9h-1zM1101 387h1v10h-1zM1102 378h1v9h-1zM1103 369h1v9h-1zM1104 360h1v9h-1zM1105 350h1v10h-1zM1106 341h1v9h-1zM1107 332h1v9h-1zM1108 323h1v9h-1zM1109 313h1v10h-1zM1110 304h1v9h-1zM1111 295h1v9h-1zM1112 286h1v9h-1zM1113 276h1v10h-1zM1114 267h1v9h-1zM1115 258h1v9h-1zM1116 249h1v9h-1zM1117 239h1v10h-1zM1118 230h1v9h-1zM1119 221h1v9h-1zM1120 212h1v9h-1zM1121 202h1v10h-1zM1122 193h1v9h-1zM1123 184h1v9h-1zM1124 175h1v9h-1zM1125 165h1v10h-1zM1126 156h1v9h-1zM1127 147h1v9h-1zM1128 138h1v9h-1zM1129 128h1v10h-1zM1130 119h1v9h-1zM1131 114h1v5h-1z" fill="#0000ff"/>
<path d="M1083 558h1v1h-1zM1084 556h1v2h-1zM1085 555h1v1h-1zM1086 553h1v2h-1zM1087 552h1v1h-1zM1088 550h1v2h-1zM1089 549h1v1h-1zM1090 547h1v2h-1zM1091 546h1v1h-1zM1092 544h1v2h-1zM1093 543h1v1h-1zM1094 541h1v2h-1zM1095 540h1v1h-1zM1096 538h1v2h-1zM1097 537h1v1h-1zM1098 536h1v1h-1zM1099 534h1v2h-1zM1100 533h1v1h-1zM1101 531h1v2h-1zM1102 530h1v1h-1zM1103 528h1v2h-1zM1104 527h1v1h-1zM1105 525h1v2h-1zM1106 524h1v1h-1zM1107 522h1v2h-1zM1108 521h1v1h-1zM1109 519h1v2h-1zM1110 518h1v1h-1zM1111 516h1v2h-1zM1112 515h1v1h-1zM1113 513h1v2h-1zM1114 512h1v1h-1zM1115 510h1v2h-1zM1116 509h1v1h-1zM1117 507h1v2h-1zM1118 506h1v1h-1zM1119 504h1v2h-1zM1120 503h1v1h-1zM1121 501h1v2h-1zM1122 500h1v1h-1zM1123 498h1v2h-1zM1124 497h1v1h-1zM1125 496h1v1h-1zM1126 494h1v2h-1zM1127 493h1v1h-1zM1128 491h1v2h-1zM1129 490h1v1h-1zM1130 488h1v2h-1zM1131 487h1v1h-1zM1132 485h1v2h-1zM1133 484h1v1h-1zM1134 482h1v2h-1zM1135 481h1v1h-1zM1136 479h1v2h-1zM1137 478h1v1h-1zM1138 476h1v2h-1zM1139 475h1v1h-1zM1140 473h1v2h-1zM1141 472h1v1h-1zM1142 470h1v2h-1zM1143 469h1v1h-1zM1144 467h1v2h-1zM1145 466h1v1h-1zM1146 464h1v2h-1zM1147 463h1v1h-1zM1148 461h1v2h-1zM1149 460h1v1h-1zM1150 458h1v2h-1zM1151 457h1v1h-1zM1152 455h1v2h-1zM1153 454h1v1h-1zM1154 453h1v1h-1zM1155 451h1v2h-1zM1156 450h1v1h-1zM1157 448h1v2h-1zM1158 447h1v1h-1zM1159 445h1v2h-1zM1160 444h1v1h-1zM1161 442h1v2h-1zM1162 441h1v1h-1zM1163 439h1v2h-1zM1164 438h1v1h-1zM1165 436h1v2h-1zM1166 435h1v1h-1zM1167 433h1v2h-1zM1168 432h1v1h-1zM1169 430h1v2h-1zM1170 429h1v1h-1zM1171 427h1v2h-1zM1172 426h1v1h-1zM1173 424h1v2h-1zM1174 423h1v1h-1zM1175 421h1v2h-1zM1176 420h1v1h-1zM1177 418h1v2h-1zM1178 417h1v1h-1zM1179 415h1v2h-1zM1180 414h1v1h-1zM1181 413h1v1h-1zM1182 411h1v2h-1zM1183 410h1v1h-1zM1184 408h1v2h-1zM1185 407h1v1h-1zM1186 405h1v2h-1zM1187 404h1v1h-1zM1188 402h1v2h-1zM1189 401h1v1h-1zM1190 399h1v2h-1zM1191 398h1v1h-1zM1192 396h1v2h-1zM1193 395h1v1h-1zM1194 393h1v2h-1zM1195 392h1v1h-1z" fill="#0000ff"/>
<path d="M1307 335h1v6h-1zM1308 341h1v11h-1zM1309 352h1v11h-1zM1310 363h1v11h-1zM1311 374h1v11h-1zM1312 385h1v11h-1zM1313 396h1v12h-1zM1314 408h1v11h-1zM1315 419h1v11h-1zM1316 430h1v11h-1zM1317 441h1v11h-1zM1318 452h1v11h-1zM1319 463h1v11h-1zM1320 474h1v11h-1zM1321 485h1v11h-1zM1322 496h1v11h-1zM1323 507h1v11h-1zM1324 518h1v11h-1zM1325 529h1v12h-1zM1326 541h1v11h-1zM1327 552h1v11h-1zM1328 563h1v11h-1zM1329 574h1v11h-1zM1330 585h1v11h-1zM1331 596h1v6h-1z" fill="#0000ff"/>
<path d="M1483 494h1v3h-1zM1484 497h1v4h-1zM1485 501h1v5h-1zM1486 506h1v5h-1zM1487 511h1v4h-1zM1488 515h1v5h-1zM1489 520h1v5h-1zM1490 525h1v4h-1zM1491 529h1v5h-1zM1492 534h1v4h-1zM1493 538h1v5h-1zM1494 543h1v5h-1zM1495 548h1v4h-1zM1496 552h1v5h-1zM1497 557h1v4h-1zM1498 561h1v5h-1zM1499 566h1v5h-1zM1500 571h1v4h-1zM1501 575h1v5h-1zM1502 580h1v5h-1zM1503 585h1v4h-1zM1504 589h1v5h-1zM1505 594h1v4h-1zM1506 598h1v5h-1zM1507 603h1v5h-1zM1508 608h1v4h-1zM1509 612h1v5h-1zM1510 617h1v4h-1zM1511 621h1v5h-1zM1512 626h1v5h-1zM1513 631h1v4h-1zM1514 635h1v5h-1zM1515 640h1v5h-1zM1516 645h1v4h-1zM1517 649h1v5h-1zM1518 654h1v4h-1zM1519 658h1v5h-1zM1520 663h1v5h-1zM1521 668h1v4h-1zM1522 672h1v5h-1zM1523 677h1v4h-1zM1524 681h1v5h-1zM1525 686h1v5h-1zM1526 691h1v4h-1zM1527 695h1v5h-1zM1528 700h1v5h-1zM1529 705h1v4h-1zM1530 709h1v5h-1zM1531 714h1v4h-1zM1532 718h1v5h-1zM1533 723h1v5h-1zM1534 728h1v4h-1zM1535 732h1v5h-1zM1536 737h1v4h-1zM1537 741h1v5h-1zM1538 746h1v5h-1zM1539 751h1v4h-1zM1540 755h1v5h-1zM1541 760h1v5h-1zM1542 765h1v4h-1zM1543 769h1v5h-1zM1544 774h1v4h-1zM1545 778h1v5h-1zM1546 783h1v5h-1zM1547 788h1v4h-1zM1548 792h1v5h-1zM1549 797h1v4h-1zM1550 801h1v5h-1zM1551 806h1v5h-1zM1552 811h1v4h-1zM1553 815h1v5h-1zM1554 820h1v5h-1zM1555 825h1v4h-1zM1556 829h1v3h-1zM1557 829h1v2h-1zM1558 828h1v1h-1zM1559 826h1v2h-1zM1560 825h1v1h-1zM1561 823h1v2h-1zM1562 822h1v1h-1zM1563 820h1v2h-1zM1564 819h1v1h-1zM1565 817h1v2h-1zM1566 816h1v1h-1zM1567 814h1v2h-1zM1568 813h1v1h-1zM1569 811h1v2h-1zM1570 810h1v1h-1zM1571 808h1v2h-1zM1572 807h1v1h-1zM1573 805h1v2h-1zM1574 804h1v1h-1zM1575 802h1v2h-1zM1576 801h1v1h-1zM1577 799h1v2h-1zM1578 798h1v1h-1zM1579 796h1v2h-1zM1580 795h1v1h-1zM1581 793h1v2h-1zM1582 792h1v1h-1zM1583 790h1v2h-1zM1584 789h1v1h-1zM1585 787h1v2h-1zM1586 786h1v1h-1zM1587 784h1v2h-1zM1588 783h1v1h-1zM1589 781h1v2h-1zM1590 780h1v1h-1zM1591 778h1v2h-1zM1592 777h1v1h-1zM1593 775h1v2h-1zM1594 774h1v1h-1zM1595 772h1v2h-1zM1596 771h1v1h-1zM1597 770h1v1h-1zM1598 768h1v2h-1zM1599 767h1v1h-1zM1600 765h1v2h-1zM1601 764h1v1h-1zM1602 762h1v2h-1zM1603 761h1v1h-1zM1604 759h1v2h-1zM1605 758h1v1h-1zM1606 756h1v2h-1zM1607 755h1v1h-1zM1608 753h1v2h-1zM1609 752h1v1h-1zM1610 750h1v2h-1zM1611 749h1v1h-1zM1612 747h1v2h-1zM1613 746h1v1h-1zM1614 744h1v2h-1zM1615 743h1v1h-1zM1616 741h1v2h-1zM1617 740h1v1h-1zM1618 738h1v2h-1zM1619 737h1v1h-1zM1620 735h1v2h-1zM1621 734h1v1h-1zM1622 732h1v2h-1zM1623 731h1v1h-1zM1624 729h1v2h-1zM1625 728h1v1h-1zM1626 726h1v2h-1zM1627 725h1v1h-1zM1628 723h1v2h-1zM1629 722h1v1h-1zM1630 720h1v2h-1zM1631 719h1v1h-1zM1632 717h1v2h-1zM1633 716h1v1h-1zM1634 714h1v2h-1zM1635 713h1v1h-1zM1636 711h1v2h-1zM1637 710h1v1h-1zM1638 708h1v2h-1zM1639 707h1v1h-1zM1640 705h1v2h-1zM1641 704h1v1h-1zM1642 702h1v2h-1zM1643 701h1v1h-1zM1644 699h1v2h-1zM1645 698h1v1h-1zM1646 696h1v2h-1zM1647 695h1v1h-1zM1648 693h1v2h-1zM1649 692h1v1h-1zM1650 690h1v2h-1zM1651 689h1v1h-1zM1652 687h1v2h-1zM1653 686h1v1h-1zM1654 684h1v2h-1zM1655 683h1v1h-1zM1656 681h1v2h-1zM1657 680h1v1h-1zM1658 678h1v2h-1zM1659 677h1v1h-1zM1660 675h1v2h-1zM1661 674h1v1h-1zM1662 672h1v2h-1zM1663 671h1v1h-1zM1664 669h1v2h-1zM1665 668h1v1h-1zM1666 666h1v2h-1zM1667 665h1v1h-1zM1668 663h1v2h-1zM1669 662h1v1h-1zM1670 660h1v2h-1zM1671 659h1v1h-1zM1672 657h1v2h-1zM1673 656h1v1h-1zM1674 654h1v2h-1zM1675 653h1v1h-1zM1676 652h1v1h-1zM1677 650h1v2h-1zM1678 649h1v1h-1zM1679 647h1v2h-1zM1680 646h1v1h-1zM1681 644h1v2h-1zM1682 643h1v1h-1zM1683 641h1v2h-1zM1684 640h1v1h-1zM1685 638h1v2h-1zM1686 637h1v1h-1zM1687 635h1v2h-1zM1688 634h1v1h-1zM1689 632h1v2h-1zM1690 631h1v1h-1zM1691 629h1v2h-1zM1692 628h1v1h-1zM1693 626h1v2h-1zM1694 625h1v1h-1zM1695 623h1v2h-1zM1696 622h1v1h-1zM1697 620h1v2h-1zM1698 619h1v1h-1zM1699 617h1v2h-1zM1700 616h1v1h-1zM1701 614h1v2h-1zM1702 613h1v1h-1zM1703 611h1v2h-1zM1704 610h1v1h-1zM1705 608h1v2h-1zM1706 607h1v1h-1zM1707 605h1v2h-1zM1708 604h1v1h-1zM1709 602h1v2h-1zM1710 601h1v1h-1zM1711 599h1v2h-1zM1712 598h1v1h-1zM1713 596h1v2h-1zM1714 595h1v1h-1zM1715 593h1v2h-1zM1716 592h1v1h-1zM1717 590h1v2h-1zM1718 589h1v1h-1zM1719 587h1v2h-1zM1720 586h1v1h-1zM1721 584h1v2h-1zM1722 583h1v1h-1zM1723 581h1v2h-1zM1724 580h1v1h-1zM1725 578h1v2h-1zM1726 577h1v1h-1zM1727 575h1v2h-1zM1728 574h1v1h-1zM1729 572h1v2h-1zM1730 571h1v1h-1zM1731 569h1v2h-1zM1732 568h1v1h-1zM1733 566h1v2h-1zM1734 565h1v1h-1zM1735 563h1v2h-1zM1736 562h1v1h-1zM1737 560h1v2h-1zM1738 559h1v1h-1zM1739 557h1v2h-1zM1740 556h1v1h-1zM1741 554h1v2h-1zM1742 553h1v1h-1zM1743 551h1v2h-1zM1744 550h1v1h-1zM1745 548h1v2h-1zM1746 547h1v1h-1zM1747 545h1v2h-1zM1748 544h1v1h-1zM1749 542h1v2h-1zM1750 541h1v1h-1zM1751 539h1v2h-1zM1752 538h1v1h-1zM1753 536h1v2h-1zM1754 535h1v1h-1zM1755 534h1v1h-1zM1756 532h1v2h-1zM1757 531h1v1h-1zM1758 529h1v2h-1zM1759 528h1v1h-1zM1760 526h1v2h-1zM1761 525h1v1h-1zM1762 523h1v2h-1zM1763 522h1v1h-1zM1764 520h1v2h-1zM1765 519h1v1h-1zM1766 517h1v2h-1zM1767 516h1v1h-1zM1768 514h1v2h-1zM1769 513h1v1h-1zM1770 511h1v2h-1zM1771 510h1v1h-1zM1772 508h1v2h-1zM1773 507h1v1h-1zM1774 505h1v2h-1zM1775 504h1v1h-1zM1776 502h1v2h-1zM1777 501h1v1h-1zM1778 499h1v2h-1zM1779 498h1v1h-1zM1780 496h1v2h-1zM1781 495h1v1h-1zM1782 493h1v2h-1zM1783 492h1v1h-1zM1784 490h1v2h-1zM1785 489h1v1h-1zM1786 487h1v2h-1zM1787 486h1v1h-1zM1788 484h1v2h-1zM1789 483h1v1h-1zM1790 481h1v2h-1zM1791 480h1v1h-1zM1792 478h1v2h-1zM1793 477h1v1h-1zM1794 475h1v2h-1zM1795 474h1v25h-1zM1796 499h1v49h-1zM1797 548h1v49h-1zM1798 597h1v49h-1zM1799 646h1v49h-1zM1800 695h1v49h-1zM1801 744h1v49h-1zM1802 793h1v49h-1zM1803 842h1v25h-1z" fill="#0000ff"/>
<path d="M675 654h1v1h-1zM676 653h1v1h-1zM677 652h1v1h-1zM681 648h1v1h-1zM682 647h1v1h-1zM683 646h1v1h-1zM687 642h1v1h-1zM688 641h1v1h-1zM689 640h1v1h-1zM693 637h1v1h-1zM694 636h1v1h-1zM695 635h1v1h-1zM699 631h1v1h-1zM700 630h1v1h-1zM701 629h1v1h-1zM705 625h1v1h-1zM706 624h1v1h-1zM707 623h1v1h-1zM711 619h1v1h-1zM712 618h1v1h-1zM713 617h1v1h-1zM717 613h1v1h-1zM718 612h1v1h-1zM719 611h1v1h-1zM723 607h1v1h-1zM724 606h2v1h-2zM729 602h1v1h-1zM730 601h1v1h-1zM731 600h1v1h-1zM735 596h1v1h-1zM736 595h1v1h-1zM737 594h1v1h-1zM741 590h1v1h-1zM742 589h1v1h-1zM743 588h1v1h-1zM747 584h1v1h-1zM748 583h1v1h-1zM749 582h1v1h-1zM753 578h1v1h-1zM754 577h1v1h-1zM755 576h1v1h-1zM759 573h1v1h-1zM760 572h1v1h-1zM761 571h1v1h-1zM765 567h1v1h-1zM766 566h1v1h-1zM767 565h1v1h-1zM771 561h1v1h-1zM772 560h1v1h-1zM773 559h1v1h-1zM777 555h1v1h-1zM778 554h1v1h-1zM779 553h1v1h-1zM783 549h1v1h-1zM784 548h1v1h-1zM785 547h1v1h-1zM789 543h1v1h-1zM790 542h2v1h-2zM795 538h1v1h-1zM796 537h1v1h-1zM797 536h1v1h-1zM801 532h1v1h-1zM802 531h1v1h-1zM803 530h1v1h-1zM807 526h1v1h-1zM808 525h1v1h-1zM809 524h1v1h-1zM813 520h1v1h-1zM814 519h1v1h-1zM815 518h1v1h-1zM819 514h1v1h-1zM820 513h1v1h-1zM821 512h1v1h-1zM825 509h1v1h-1zM826 508h1v1h-1zM827 507h1v1h-1zM831 503h1v1h-1zM832 502h1v1h-1zM833 501h1v1h-1zM837 497h1v1h-1zM838 496h1v1h-1zM839 495h1v1h-1zM843 491h1v1h-1zM844 490h1v1h-1zM845 489h1v1h-1zM849 485h1v1h-1zM850 484h1v1h-1zM851 483h1v1h-1zM855 479h2v1h-2zM857 478h1v1h-1zM861 474h1v1h-1zM862 473h1v1h-1zM863 472h1v1h-1zM867 468h1v1h-1zM868 467h1v1h-1zM869 466h1v1h-1zM873 462h1v1h-1zM874 461h1v1h-1zM875 460h1v1h-1zM879 456h1v1h-1zM880 455h1v1h-1zM881 454h1v1h-1zM885 450h1v1h-1zM886 449h1v1h-1zM887 448h1v1h-1zM891 445h1v1h-1zM892 444h1v1h-1zM893 443h1v1h-1zM897 439h1v1h-1zM898 438h1v1h-1zM899 437h1v1h-1zM903 433h1v1h-1zM904 432h1v1h-1zM905 431h1v1h-1zM909 427h1v1h-1zM910 426h1v1h-1zM911 425h1v1h-1zM915 421h1v1h-1zM916 420h1v1h-1zM917 419h1v1h-1zM921 415h2v1h-2zM923 414h1v1h-1zM927 410h1v1h-1zM928 409h1v1h-1zM929 408h1v1h-1zM933 404h1v1h-1zM934 403h1v1h-1zM935 402h1v1h-1zM939 398h1v1h-1zM940 397h1v1h-1zM941 396h1v1h-1zM945 392h1v1h-1zM946 391h1v1h-1zM947 390h1v1h-1zM951 386h1v1h-1zM952 385h1v1h-1zM953 384h1v1h-1zM957 381h1v1h-1zM958 380h1v1h-1zM959 379h1v1h-1zM963 375h1v1h-1zM964 374h1v1h-1zM965 373h1v1h-1zM969 369h1v1h-1zM970 368h1v1h-1zM971 367h1v1h-1zM975 363h1v1h-1zM976 362h1v1h-1zM977 361h1v1h-1zM981 357h1v1h-1zM982 356h1v1h-1zM983 355h1v1h-1zM987 351h2v1h-2zM989 350h1v1h-1zM993 346h1v1h-1zM994 345h1v1h-1zM995 344h1v1h-1zM999 340h1v1h-1zM1000 339h1v1h-1zM1001 338h1v1h-1z" fill="#0000ff"/>
<path d="M771 635h1v2h-1zM772 634h1v1h-1zM774 629h1v2h-1zM775 628h1v1h-1zM777 623h1v2h-1zM778 622h1v1h-1zM780 617h1v2h-1zM781 616h1v1h-1zM783 611h1v2h-1zM784 610h1v1h-1zM786 605h1v2h-1zM787 604h1v1h-1zM788 600h1v1h-1zM789 598h1v2h-1zM791 594h1v1h-1zM792 592h1v2h-1zM794 588h1v1h-1zM795 586h1v2h-1zM797 582h1v1h-1zM798 580h1v2h-1zM800 576h1v1h-1zM801 574h1v2h-1zM803 570h1v1h-1zM804 568h1v2h-1zM806 563h1v2h-1zM807 562h1v1h-1zM809 557h1v2h-1zM810 556h1v1h-1zM812 551h1v2h-1zM813 550h1v1h-1zM815 545h1v2h-1zM816 544h1v1h-1zM818 539h1v2h-1zM819 538h1v1h-1zM821 533h1v2h-1zM822 532h1v1h-1zM823 528h1v1h-1zM824 526h1v2h-1zM826 522h1v1h-1zM827 520h1v2h-1zM829 516h1v1h-1zM830 514h1v2h-1zM832 510h1v1h-1zM833 508h1v2h-1zM835 504h1v1h-1zM836 502h1v2h-1zM838 497h1v2h-1zM839 496h1v1h-1zM841 491h1v2h-1zM842 490h1v1h-1zM844 485h1v2h-1zM845 484h1v1h-1zM847 479h1v2h-1zM848 478h1v1h-1zM850 473h1v2h-1zM851 472h1v1h-1zM853 467h1v2h-1zM854 466h1v1h-1zM855 462h1v1h-1zM856 460h1v2h-1zM858 456h1v1h-1zM859 454h1v2h-1zM861 450h1v1h-1zM862 448h1v2h-1zM864 444h1v1h-1zM865 442h1v2h-1zM867 438h1v1h-1zM868 436h1v2h-1zM870 432h1v1h-1zM871 430h1v2h-1zM873 425h1v2h-1zM874 424h1v1h-1zM876 419h1v2h-1zM877 418h1v1h-1zM879 413h1v2h-1zM880 412h1v1h-1zM882 407h1v2h-1zM883 406h1v1h-1zM885 401h1v2h-1zM886 400h1v1h-1zM888 395h1v2h-1zM889 394h1v1h-1zM890 390h1v1h-1zM891 388h1v2h-1zM893 384h1v1h-1zM894 382h1v2h-1zM896 378h1v1h-1zM897 376h1v2h-1zM899 372h1v1h-1zM900 370h1v2h-1zM902 366h1v1h-1zM903 364h1v2h-1zM905 360h1v1h-1zM906 358h1v2h-1z" fill="#0000ff"/>
<path d="M1180 113h1v1h-1zM1181 114h1v2h-1zM1184 119h1v1h-1zM1185 120h1v1h-1zM1186 121h1v1h-1zM1188 125h1v1h-1zM1189 126h1v1h-1zM1190 127h1v1h-1zM1193 131h1v2h-1zM1194 133h1v1h-1zM1197 137h1v1h-1zM1198 138h1v2h-1zM1201 143h1v1h-1zM1202 144h1v1h-1zM1203 145h1v1h-1zM1205 149h1v1h-1zM1206 150h1v1h-1zM1207 151h1v1h-1zM1210 155h1v2h-1zM1211 157h1v1h-1zM1214 161h1v1h-1zM1215 162h1v2h-1zM1218 167h1v1h-1zM1219 168h1v1h-1zM1220 169h1v1h-1zM1222 173h1v1h-1zM1223 174h1v1h-1zM1224 175h1v1h-1zM1227 179h1v2h-1zM1228 181h1v1h-1zM1231 185h1v1h-1zM1232 186h1v2h-1zM1235 191h1v1h-1zM1236 192h1v1h-1zM1237 193h1v1h-1zM1239 197h1v1h-1zM1240 198h1v1h-1zM1241 199h1v1h-1zM1244 203h1v2h-1zM1245 205h1v1h-1zM1248 209h1v1h-1zM1249 210h1v2h-1zM1252 215h1v1h-1zM1253 216h1v1h-1zM1254 217h1v1h-1zM1256 221h1v1h-1zM1257 222h1v1h-1zM1258 223h1v1h-1zM1261 227h1v2h-1zM1262 229h1v1h-1zM1265 233h1v1h-1zM1266 234h1v2h-1zM1269 239h1v1h-1zM1270 240h1v1h-1zM1271 241h1v1h-1zM1273 245h1v1h-1zM1274 246h1v1h-1zM1275 247h1v1h-1zM1278 251h1v2h-1zM1279 253h1v1h-1zM1282 257h1v1h-1zM1283 258h1v2h-1zM1286 263h1v1h-1zM1287 264h1v2h-1zM1290 269h1v1h-1zM1291 270h1v1h-1zM1292 271h1v1h-1zM1295 275h1v2h-1zM1296 277h1v1h-1zM1299 281h1v1h-1zM1300 282h1v2h-1zM1303 287h1v1h-1zM1304 288h1v2h-1zM1307 293h1v1h-1zM1308 294h1v1h-1zM1309 295h1v1h-1zM1312 299h1v2h-1zM1313 301h1v1h-1zM1316 305h1v2h-1zM1317 307h1v1h-1zM1320 311h1v1h-1zM1321 312h1v2h-1zM1324 317h1v1h-1zM1325 318h1v1h-1zM1326 319h1v1h-1zM1328 323h1v1h-1zM1329 324h1v1h-1zM1330 325h1v1h-1zM1333 329h1v2h-1zM1334 331h1v1h-1zM1337 335h1v1h-1zM1338 336h1v2h-1zM1341 341h1v1h-1zM1342 342h1v1h-1zM1343 343h1v1h-1zM1345 347h1v1h-1zM1346 348h1v1h-1zM1347 349h1v1h-1zM1350 353h1v2h-1zM1351 355h1v1h-1zM1354 359h1v1h-1zM1355 360h1v2h-1zM1358 365h1v1h-1zM1359 366h1v1h-1zM1360 367h1v1h-1zM1362 371h1v1h-1zM1363 372h1v1h-1zM1364 373h1v1h-1zM1367 377h1v2h-1zM1368 379h1v1h-1zM1371 383h1v1h-1zM1372 384h1v2h-1zM1375 389h1v1h-1zM1376 390h1v1h-1zM1377 391h1v1h-1zM1379 395h1v1h-1zM1380 396h1v1h-1zM1381 397h1v1h-1zM1384 401h1v2h-1zM1385 403h1v1h-1zM1388 407h1v1h-1zM1389 408h1v2h-1zM1392 413h1v1h-1zM1393 414h1v1h-1zM1394 415h1v1h-1zM1396 419h1v1h-1zM1397 420h1v1h-1zM1398 421h1v1h-1zM1401 425h1v2h-1zM1402 427h1v1h-1zM1405 431h1v1h-1zM1406 432h1v2h-1zM1409 437h1v1h-1zM1410 438h1v1h-1zM1411 439h1v1h-1zM1413 443h1v1h-1zM1414 444h1v1h-1zM1415 445h1v1h-1zM1418 449h1v2h-1zM1419 451h1v1h-1zM1422 455h1v1h-1zM1423 456h1v2h-1zM1426 461h1v1h-1zM1427 462h1v2h-1zM1430 467h1v1h-1zM1431 468h1v1h-1zM1432 469h1v1h-1zM1435 473h1v2h-1zM1436 475h1v1h-1zM1439 479h1v1h-1zM1440 480h1v2h-1zM1443 485h1v1h-1zM1444 486h1v2h-1zM1447 491h1v1h-1zM1448 492h1v1h-1zM1449 493h1v1h-1zM1452 497h1v2h-1zM1453 499h1v1h-1zM1456 503h1v2h-1zM1457 505h1v1h-1zM1460 509h1v1h-1zM1461 510h1v2h-1zM1464 515h1v1h-1zM1465 516h1v1h-1zM1466 517h1v1h-1zM1469 521h1v2h-1zM1470 523h1v1h-1zM1473 527h1v2h-1zM1474 529h1v1h-1zM1477 533h1v1h-1zM1478 534h1v2h-1zM1481 539h1v1h-1zM1482 540h1v1h-1zM1483 541h1v1h-1zM1485 545h1v1h-1zM1486 546h1v1h-1zM1487 547h1v1h-1zM1490 551h1v2h-1zM1491 553h1v1h-1zM1494 557h1v1h-1zM1495 558h1v2h-1zM1498 563h1v1h-1zM1499 564h1v1h-1zM1500 565h1v1h-1zM1502 569h1v1h-1zM1503 570h1v1h-1zM1504 571h1v1h-1zM1507 575h1v2h-1zM1508 577h1v1h-1zM1511 581h1v1h-1zM1512 582h1v2h-1zM1515 587h1v1h-1zM1516 588h1v1h-1zM1517 589h1v1h-1zM1519 593h1v1h-1zM1520 594h1v1h-1zM1521 595h1v1h-1zM1524 599h1v2h-1zM1525 601h1v1h-1zM1528 605h1v1h-1zM1529 606h1v2h-1zM1532 611h1v1h-1zM1533 612h1v1h-1zM1534 613h1v1h-1zM1536 617h1v1h-1zM1537 618h1v1h-1zM1538 619h1v1h-1zM1541 623h1v2h-1zM1542 625h1v1h-1zM1545 629h1v1h-1zM1546 630h1v2h-1z" fill="#0000ff"/>
<path d="M1163 380h1v1h-1zM1164 381h1v2h-1zM1167 386h1v1h-1zM1168 387h1v1h-1zM1169 388h1v1h-1zM1172 392h1v2h-1zM1173 394h1v1h-1zM1176 398h1v1h-1zM1177 399h1v2h-1zM1180 404h1v1h-1zM1181 405h1v1h-1zM1182 406h1v1h-1zM1184 410h1v1h-1zM1185 411h1v1h-1zM1186 412h1v1h-1zM1189 416h1v1h-1zM1190 417h1v2h-1zM1193 422h1v1h-1zM1194 423h1v1h-1zM1195 424h1v1h-1zM1197 428h1v1h-1zM1198 429h1v1h-1zM1199 430h1v1h-1zM1202 434h1v2h-1zM1203 436h1v1h-1zM1206 440h1v1h-1zM1207 441h1v2h-1zM1210 446h1v1h-1zM1211 447h1v1h-1zM1212 448h1v1h-1zM1215 452h1v2h-1zM1216 454h1v1h-1zM1219 458h1v1h-1zM1220 459h1v2h-1zM1223 464h1v1h-1zM1224 465h1v1h-1zM1225 466h1v1h-1zM1227 470h1v1h-1zM1228 471h1v1h-1zM1229 472h1v1h-1zM1232 476h1v2h-1zM1233 478h1v1h-1zM1236 482h1v1h-1zM1237 483h1v2h-1zM1240 488h1v1h-1zM1241 489h1v1h-1zM1242 490h1v1h-1zM1245 494h1v2h-1zM1246 496h1v1h-1zM1249 500h1v1h-1zM1250 501h1v2h-1zM1253 506h1v1h-1zM1254 507h1v1h-1zM1255 508h1v1h-1zM1258 512h1v2h-1zM1259 514h1v1h-1zM1262 518h1v1h-1zM1263 519h1v2h-1zM1266 524h1v1h-1zM1267 525h1v1h-1zM1268 526h1v1h-1zM1270 530h1v1h-1zM1271 531h1v1h-1zM1272 532h1v1h-1zM1275 536h1v2h-1zM1276 538h1v1h-1zM1279 542h1v1h-1zM1280 543h1v2h-1zM1283 548h1v1h-1zM1284 549h1v1h-1zM1285 550h1v1h-1zM1288 554h1v2h-1zM1289 556h1v1h-1zM1292 560h1v1h-1zM1293 561h1v2h-1zM1296 566h1v1h-1zM1297 567h1v1h-1zM1298 568h1v1h-1zM1301 572h1v2h-1zM1302 574h1v1h-1zM1305 578h1v1h-1zM1306 579h1v2h-1zM1309 584h1v1h-1zM1310 585h1v1h-1zM1311 586h1v1h-1zM1313 590h1v1h-1zM1314 591h1v1h-1zM1315 592h1v1h-1zM1318 596h1v2h-1zM1319 598h1v1h-1zM1322 602h1v1h-1zM1323 603h1v2h-1zM1326 608h1v1h-1zM1327 609h1v1h-1zM1328 610h1v1h-1zM1331 614h1v2h-1zM1332 616h1v1h-1zM1335 620h1v1h-1zM1336 621h1v2h-1zM1339 626h1v1h-1zM1340 627h1v1h-1zM1341 628h1v1h-1zM1343 632h1v1h-1zM1344 633h1v1h-1zM1345 634h1v1h-1zM1348 638h1v1h-1zM1349 639h1v2h-1zM1352 644h1v1h-1zM1353 645h1v1h-1zM1354 646h1v1h-1zM1356 650h1v1h-1zM1357 651h1v1h-1zM1358 652h1v1h-1zM1361 656h1v2h-1zM1362 658h1v1h-1zM1365 662h1v1h-1zM1366 663h1v2h-1zM1369 668h1v1h-1zM1370 669h1v1h-1zM1371 670h1v1h-1zM1374 674h1v2h-1zM1375 676h1v1h-1zM1378 680h1v1h-1zM1379 681h1v2h-1zM1382 686h1v1h-1zM1383 687h1v1h-1zM1384 688h1v1h-1zM1386 692h1v1h-1zM1387 693h1v1h-1zM1388 694h1v1h-1zM1391 698h1v2h-1zM1392 700h1v1h-1zM1395 704h1v1h-1zM1396 705h1v2h-1zM1399 710h1v1h-1zM1400 711h1v1h-1zM1401 712h1v1h-1zM1404 716h1v2h-1zM1405 718h1v1h-1zM1408 722h1v1h-1zM1409 723h1v2h-1zM1412 728h1v1h-1zM1413 729h1v1h-1zM1414 730h1v1h-1zM1417 734h1v2h-1zM1418 736h1v1h-1zM1421 740h1v1h-1zM1422 741h1v2h-1zM1425 746h1v1h-1zM1426 747h1v1h-1zM1427 748h1v1h-1zM1429 752h1v1h-1zM1430 753h1v1h-1zM1431 754h1v1h-1zM1434 758h1v2h-1zM1435 760h1v1h-1zM1438 764h1v1h-1zM1439 765h1v2h-1zM1442 770h1v1h-1zM1443 771h1v1h-1zM1444 772h1v1h-1zM1447 776h1v2h-1zM1448 778h1v1h-1zM1451 782h1v1h-1zM1452 783h1v2h-1zM1455 788h1v1h-1zM1456 789h1v1h-1zM1457 790h1v1h-1zM1460 794h1v2h-1zM1461 796h1v1h-1zM1464 800h1v1h-1zM1465 801h1v2h-1zM1468 806h1v1h-1zM1469 807h1v1h-1zM1470 808h1v1h-1zM1472 812h1v1h-1zM1473 813h1v1h-1zM1474 814h1v1h-1z" fill="#0000ff"/>
<path d="M1427 526h1v1h-1zM1427 530h1v3h-1zM1427 536h1v3h-1zM1427 542h1v3h-1zM1427 548h1v3h-1zM1427 554h1v3h-1zM1427 560h1v3h-1zM1427 566h1v3h-1zM1427 572h1v3h-1zM1427 578h1v3h-1zM1427 584h1v3h-1zM1427 590h1v3h-1zM1427 596h1v3h-1zM1427 602h1v3h-1zM1427 608h1v3h-1zM1427 614h1v3h-1zM1427 620h1v3h-1zM1427 626h1v3h-1zM1427 632h1v3h-1zM1427 638h1v3h-1zM1427 644h1v3h-1zM1427 650h1v3h-1zM1427 656h1v3h-1zM1427 662h1v3h-1zM1427 668h1v3h-1zM1427 674h1v3h-1z" fill="#0000ff"/>
<path d="M1180 110h1v1h-1zM1181 110h1v1h-1zM1182 110h1v1h-1zM1178 112h1v1h-1zM1178 113h1v1h-1zM1178 114h1v1h-1zM1182 112h1v1h-1zM1182 113h1v1h-1zM1182 114h1v1h-1zM1363 369h1v1h-1zM1364 369h1v1h-1zM1365 369h1v1h-1zM1361 371h1v1h-1zM1361 372h1v1h-1zM1361 373h1v1h-1zM1365 371h1v1h-1zM1365 372h1v1h-1zM1365 373h1v1h-1zM1547 630h1v1h-1zM1548 630h1v1h-1zM1549 630h1v1h-1zM1545 632h1v1h-1zM1545 633h1v1h-1zM1545 634h1v1h-1zM1549 632h1v1h-1zM1549 633h1v1h-1zM1549 634h1v1h-1zM1427 522h1v1h-1zM1428 522h1v1h-1zM1429 522h1v1h-1zM1425 524h1v1h-1zM1425 525h1v1h-1zM1425 526h1v1h-1zM1429 524h1v1h-1zM1429 525h1v1h-1zM1429 526h1v1h-1zM1427 599h1v1h-1zM1428 599h1v1h-1zM1429 599h1v1h-1zM1425 601h1v1h-1zM1425 602h1v1h-1zM1425 603h1v1h-1zM1429 601h1v1h-1zM1429 602h1v1h-1zM1429 603h1v1h-1zM1427 676h1v1h-1zM1428 676h1v1h-1zM1429 676h1v1h-1zM1425 678h1v1h-1zM1425 679h1v1h-1zM1425 680h1v1h-1zM1429 678h1v1h-1zM1429 679h1v1h-1zM1429 680h1v1h-1z" fill="#0000ff"/>
</g>
<g fill="#0000ff" font-size="32.5px" clip-path="url(#cp)">
<path d="M763 0H583V1147Q518 1085 412.5 1023T223 930V1104Q373 1174.5 485.5 1275T644 1470H763Z" transform="translate(994.3 95.9) scale(0.01587 -0.01587)"/>
<text x="1012.6" y="95.9">.2080</text>
<text x="1218" y="207.5">2</text>
<path d="M763 0H583V1147Q518 1085 412.5 1023T223 930V1104Q373 1174.5 485.5 1275T644 1470H763Z" transform="translate(1170.3 435) scale(0.01587 -0.01587)"/>
<text x="1330" y="715.5">3</text>
<text x="1529.5" y="463">4</text>
<text x="-4.9" y="239.7">5</text>
</g>
<g fill="#000000" shape-rendering="crispEdges">
<rect x="2" y="2" width="1851" height="1"/>
<rect x="2" y="2" width="1" height="815"/>
<rect x="1852" y="2" width="1" height="815"/>
<rect x="2" y="816" width="1851" height="1"/>
<rect x="1853" y="13" width="2" height="1"/>
<rect x="1853" y="62" width="2" height="1"/>
<rect x="1853" y="111" width="2" height="1"/>
<rect x="1853" y="160" width="2" height="1"/>
<rect x="1853" y="209" width="2" height="1"/>
<rect x="1853" y="258" width="2" height="1"/>
<rect x="1853" y="307" width="2" height="1"/>
<rect x="1853" y="356" width="2" height="1"/>
<rect x="1853" y="405" width="2" height="1"/>
<rect x="1853" y="454" width="2" height="1"/>
<rect x="1853" y="503" width="2" height="1"/>
<rect x="1853" y="552" width="2" height="1"/>
<rect x="1853" y="601" width="2" height="1"/>
<rect x="1853" y="650" width="2" height="1"/>
<rect x="1853" y="699" width="2" height="1"/>
<rect x="1853" y="748" width="2" height="1"/>
<rect x="1853" y="797" width="2" height="1"/>
<rect x="3" y="817" width="1" height="3"/>
<rect x="99" y="817" width="1" height="3"/>
<rect x="195" y="817" width="1" height="3"/>
<rect x="291" y="817" width="1" height="3"/>
<rect x="387" y="817" width="1" height="3"/>
<rect x="483" y="817" width="1" height="3"/>
<rect x="579" y="817" width="1" height="3"/>
<rect x="675" y="817" width="1" height="3"/>
<rect x="771" y="817" width="1" height="3"/>
<rect x="867" y="817" width="1" height="3"/>
<rect x="963" y="817" width="1" height="3"/>
<rect x="1059" y="817" width="1" height="3"/>
<rect x="1155" y="817" width="1" height="3"/>
<rect x="1251" y="817" width="1" height="3"/>
<rect x="1347" y="817" width="1" height="3"/>
<rect x="1443" y="817" width="1" height="3"/>
</g>
<g font-size="12px" fill="#000000">
<text x="1859.5" y="17.9" textLength="45" lengthAdjust="spacingAndGlyphs">1.21910</text>
<text x="1859.5" y="66.9" textLength="45" lengthAdjust="spacingAndGlyphs">1.21360</text>
<text x="1859.5" y="164.9" textLength="45" lengthAdjust="spacingAndGlyphs">1.20260</text>
<text x="1859.5" y="213.9" textLength="45" lengthAdjust="spacingAndGlyphs">1.19700</text>
<text x="1859.5" y="262.9" textLength="45" lengthAdjust="spacingAndGlyphs">1.19150</text>
<text x="1859.5" y="311.9" textLength="45" lengthAdjust="spacingAndGlyphs">1.18600</text>
<text x="1859.5" y="360.9" textLength="45" lengthAdjust="spacingAndGlyphs">1.18050</text>
<text x="1859.5" y="409.9" textLength="45" lengthAdjust="spacingAndGlyphs">1.17500</text>
<text x="1859.5" y="458.9" textLength="45" lengthAdjust="spacingAndGlyphs">1.16940</text>
<text x="1859.5" y="507.9" textLength="45" lengthAdjust="spacingAndGlyphs">1.16390</text>
<text x="1859.5" y="556.9" textLength="45" lengthAdjust="spacingAndGlyphs">1.15840</text>
<text x="1859.5" y="654.9" textLength="45" lengthAdjust="spacingAndGlyphs">1.14730</text>
<text x="1859.5" y="703.9" textLength="45" lengthAdjust="spacingAndGlyphs">1.14180</text>
<text x="1859.5" y="752.9" textLength="45" lengthAdjust="spacingAndGlyphs">1.13630</text>
<text x="1859.5" y="801.9" textLength="45" lengthAdjust="spacingAndGlyphs">1.13080</text>
</g>
<rect x="1854" y="106" width="56" height="14" fill="#ff0000" shape-rendering="crispEdges"/>
<text x="1859.5" y="117.5" font-size="12px" fill="#ffffff" textLength="45" lengthAdjust="spacingAndGlyphs">1.20794</text>
<rect x="1854" y="114" width="56" height="14" fill="#ff0000" shape-rendering="crispEdges"/>
<text x="1859.5" y="125.5" font-size="12px" fill="#ffffff" textLength="45" lengthAdjust="spacingAndGlyphs">1.20709</text>
<rect x="1854" y="460" width="56" height="14" fill="#ff0000" shape-rendering="crispEdges"/>
<text x="1859.5" y="471.5" font-size="12px" fill="#ffffff" textLength="45" lengthAdjust="spacingAndGlyphs">1.16804</text>
<rect x="1854" y="594" width="56" height="14" fill="#000000" shape-rendering="crispEdges"/>
<rect x="1854" y="595" width="56" height="14" fill="#ff0000" shape-rendering="crispEdges"/>
<text x="1859.5" y="606.5" font-size="12px" fill="#ffffff" textLength="45" lengthAdjust="spacingAndGlyphs">1.15286</text>
<rect x="1854" y="657" width="56" height="14" fill="#ff0000" shape-rendering="crispEdges"/>
<text x="1859.5" y="668.5" font-size="12px" fill="#ffffff" textLength="45" lengthAdjust="spacingAndGlyphs">1.14592</text>
<g font-size="12px" fill="#000000">
<text x="2.5" y="831.5" textLength="64.5" lengthAdjust="spacingAndGlyphs">10 Jul 2025</text>
<text x="194.5" y="831.5" textLength="71" lengthAdjust="spacingAndGlyphs">13 Aug 2025</text>
<text x="290.5" y="831.5" textLength="71" lengthAdjust="spacingAndGlyphs">29 Aug 2025</text>
<text x="450.0" y="831.5" textLength="6.9" lengthAdjust="spacingAndGlyphs">5</text>
<text x="482.5" y="831.5" textLength="62" lengthAdjust="spacingAndGlyphs">2 Oct 2025</text>
<text x="578.5" y="831.5" textLength="69" lengthAdjust="spacingAndGlyphs">20 Oct 2025</text>
<text x="730.0" y="831.5" textLength="6.9" lengthAdjust="spacingAndGlyphs">5</text>
<text x="770.5" y="831.5" textLength="70.5" lengthAdjust="spacingAndGlyphs">21 Nov 2025</text>
<text x="866.5" y="831.5" textLength="64" lengthAdjust="spacingAndGlyphs">9 Dec 2025</text>
<text x="962.5" y="831.5" textLength="70.5" lengthAdjust="spacingAndGlyphs">26 Dec 2025</text>
<text x="1058.5" y="831.5" textLength="68" lengthAdjust="spacingAndGlyphs">14 Jan 2026</text>
<text x="1154.5" y="831.5" textLength="67" lengthAdjust="spacingAndGlyphs">30 Jan 2026</text>
<text x="1250.5" y="831.5" textLength="69" lengthAdjust="spacingAndGlyphs">17 Feb 2026</text>
<text x="1346.5" y="831.5" textLength="62.5" lengthAdjust="spacingAndGlyphs">5 Mar 2026</text>
</g>
<rect x="76" y="820" width="110" height="14" fill="#ff0000" shape-rendering="crispEdges"/>
<text x="81.5" y="831.5" font-size="12px" fill="#ffffff" textLength="98.8" lengthAdjust="spacingAndGlyphs">2025.08.01 00:00</text>
<rect x="340" y="820" width="110" height="14" fill="#ff0000" shape-rendering="crispEdges"/>
<text x="345.5" y="831.5" font-size="12px" fill="#ffffff" textLength="98.8" lengthAdjust="spacingAndGlyphs">2025.09.17 00:00</text>
<rect x="620" y="820" width="110" height="14" fill="#ff0000" shape-rendering="crispEdges"/>
<text x="625.5" y="831.5" font-size="12px" fill="#ffffff" textLength="98.8" lengthAdjust="spacingAndGlyphs">2025.11.05 00:00</text>
<rect x="1076" y="820" width="110" height="14" fill="#ff0000" shape-rendering="crispEdges"/>
<text x="1081.5" y="831.5" font-size="12px" fill="#ffffff" textLength="98.8" lengthAdjust="spacingAndGlyphs">2026.01.27 00:00</text>
<rect x="1428" y="820" width="110" height="14" fill="#ff0000" shape-rendering="crispEdges"/>
<text x="1433.5" y="831.5" font-size="12px" fill="#ffffff" textLength="98.8" lengthAdjust="spacingAndGlyphs">2026.03.28 08:00</text>
<rect x="1532" y="820" width="110" height="14" fill="#ff0000" shape-rendering="crispEdges"/>
<text x="1537.5" y="831.5" font-size="12px" fill="#ffffff" textLength="98.8" lengthAdjust="spacingAndGlyphs">2026.04.10 00:00</text>
<rect x="1641" y="820" width="1" height="14" fill="#ff0000" shape-rendering="crispEdges"/>
<path d="M6 10 L15 10 L10.5 15 Z" fill="#000000"/>
<g font-size="12px" fill="#000000">
<text x="21.3" y="16.7" textLength="72" lengthAdjust="spacingAndGlyphs">EURUSD,Daily</text>
<text x="102" y="16.7" textLength="45.7" lengthAdjust="spacingAndGlyphs">1.15586</text>
<text x="152" y="16.7" textLength="45.7" lengthAdjust="spacingAndGlyphs">1.15718</text>
<text x="202" y="16.7" textLength="45.7" lengthAdjust="spacingAndGlyphs">1.15218</text>
<text x="251.7" y="16.7" textLength="45.7" lengthAdjust="spacingAndGlyphs">1.15295</text>
</g>
</svg></body></html>
